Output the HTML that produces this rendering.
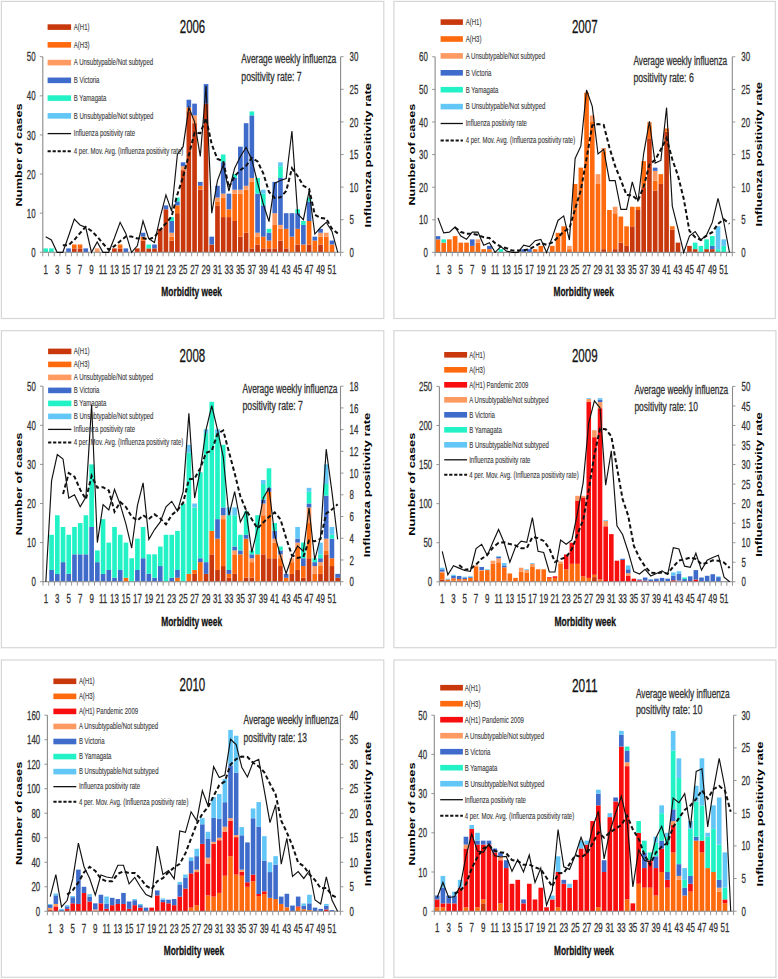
<!DOCTYPE html>
<html><head><meta charset="utf-8"><style>
html,body{margin:0;padding:0;background:#fff;}
svg{display:block;font-family:"Liberation Sans",sans-serif;}
</style></head><body>
<svg width="778" height="979" viewBox="0 0 778 979">
<rect width="778" height="979" fill="#fff"/>
<rect x="1.4" y="1.4" width="382.40000000000003" height="317.1" fill="#fff" stroke="#d6d6d6" stroke-width="1.2"/>
<rect x="43.34" y="248.39" width="4.64" height="3.91" fill="#22F2C6"/>
<rect x="49.07" y="248.39" width="4.64" height="3.91" fill="#22F2C6"/>
<rect x="66.25" y="248.39" width="4.64" height="3.91" fill="#3F6CCB"/>
<rect x="71.98" y="248.39" width="4.64" height="3.91" fill="#C8380C"/>
<rect x="71.98" y="244.48" width="4.64" height="3.91" fill="#FF6A0E"/>
<rect x="77.71" y="248.39" width="4.64" height="3.91" fill="#C8380C"/>
<rect x="77.71" y="244.48" width="4.64" height="3.91" fill="#FF6A0E"/>
<rect x="83.43" y="248.39" width="4.64" height="3.91" fill="#3F6CCB"/>
<rect x="94.89" y="248.39" width="4.64" height="3.91" fill="#FF9A62"/>
<rect x="112.07" y="248.39" width="4.64" height="3.91" fill="#C8380C"/>
<rect x="117.79" y="248.39" width="4.64" height="3.91" fill="#C8380C"/>
<rect x="117.79" y="244.48" width="4.64" height="3.91" fill="#FF6A0E"/>
<rect x="123.52" y="248.39" width="4.64" height="3.91" fill="#3F6CCB"/>
<rect x="134.97" y="248.39" width="4.64" height="3.91" fill="#C8380C"/>
<rect x="140.70" y="240.56" width="4.64" height="11.74" fill="#C8380C"/>
<rect x="140.70" y="236.65" width="4.64" height="3.91" fill="#FF6A0E"/>
<rect x="140.70" y="232.74" width="4.64" height="3.91" fill="#3F6CCB"/>
<rect x="146.43" y="248.39" width="4.64" height="3.91" fill="#C8380C"/>
<rect x="146.43" y="244.48" width="4.64" height="3.91" fill="#22F2C6"/>
<rect x="152.16" y="248.39" width="4.64" height="3.91" fill="#C8380C"/>
<rect x="152.16" y="244.48" width="4.64" height="3.91" fill="#3F6CCB"/>
<rect x="157.88" y="228.83" width="4.64" height="23.47" fill="#C8380C"/>
<rect x="163.61" y="209.27" width="4.64" height="43.03" fill="#C8380C"/>
<rect x="163.61" y="205.36" width="4.64" height="3.91" fill="#3F6CCB"/>
<rect x="169.34" y="240.56" width="4.64" height="11.74" fill="#C8380C"/>
<rect x="169.34" y="236.65" width="4.64" height="3.91" fill="#FF6A0E"/>
<rect x="169.34" y="232.74" width="4.64" height="3.91" fill="#FF9A62"/>
<rect x="169.34" y="221.00" width="4.64" height="11.74" fill="#3F6CCB"/>
<rect x="169.34" y="217.09" width="4.64" height="3.91" fill="#22F2C6"/>
<rect x="175.06" y="213.18" width="4.64" height="39.12" fill="#C8380C"/>
<rect x="175.06" y="205.36" width="4.64" height="7.82" fill="#FF6A0E"/>
<rect x="175.06" y="201.44" width="4.64" height="3.91" fill="#3F6CCB"/>
<rect x="175.06" y="197.53" width="4.64" height="3.91" fill="#22F2C6"/>
<rect x="180.79" y="170.15" width="4.64" height="82.15" fill="#C8380C"/>
<rect x="180.79" y="166.24" width="4.64" height="3.91" fill="#FF9A62"/>
<rect x="180.79" y="162.32" width="4.64" height="3.91" fill="#3F6CCB"/>
<rect x="186.52" y="111.47" width="4.64" height="140.83" fill="#C8380C"/>
<rect x="186.52" y="107.56" width="4.64" height="3.91" fill="#FF6A0E"/>
<rect x="186.52" y="99.73" width="4.64" height="7.82" fill="#3F6CCB"/>
<rect x="192.24" y="123.20" width="4.64" height="129.10" fill="#C8380C"/>
<rect x="192.24" y="115.38" width="4.64" height="7.82" fill="#FF9A62"/>
<rect x="192.24" y="103.64" width="4.64" height="11.74" fill="#3F6CCB"/>
<rect x="197.97" y="189.71" width="4.64" height="62.59" fill="#C8380C"/>
<rect x="197.97" y="185.80" width="4.64" height="3.91" fill="#FF6A0E"/>
<rect x="197.97" y="181.88" width="4.64" height="3.91" fill="#3F6CCB"/>
<rect x="203.70" y="103.64" width="4.64" height="148.66" fill="#C8380C"/>
<rect x="203.70" y="84.08" width="4.64" height="19.56" fill="#3F6CCB"/>
<rect x="209.42" y="244.48" width="4.64" height="7.82" fill="#C8380C"/>
<rect x="209.42" y="236.65" width="4.64" height="7.82" fill="#3F6CCB"/>
<rect x="215.15" y="205.36" width="4.64" height="46.94" fill="#C8380C"/>
<rect x="215.15" y="201.44" width="4.64" height="3.91" fill="#FF6A0E"/>
<rect x="215.15" y="197.53" width="4.64" height="3.91" fill="#FF9A62"/>
<rect x="215.15" y="185.80" width="4.64" height="11.74" fill="#3F6CCB"/>
<rect x="220.88" y="217.09" width="4.64" height="35.21" fill="#C8380C"/>
<rect x="220.88" y="197.53" width="4.64" height="19.56" fill="#FF6A0E"/>
<rect x="220.88" y="193.62" width="4.64" height="3.91" fill="#FF9A62"/>
<rect x="220.88" y="162.32" width="4.64" height="31.30" fill="#3F6CCB"/>
<rect x="220.88" y="154.50" width="4.64" height="7.82" fill="#22F2C6"/>
<rect x="226.61" y="217.09" width="4.64" height="35.21" fill="#C8380C"/>
<rect x="226.61" y="209.27" width="4.64" height="7.82" fill="#FF6A0E"/>
<rect x="226.61" y="193.62" width="4.64" height="15.65" fill="#3F6CCB"/>
<rect x="232.33" y="221.00" width="4.64" height="31.30" fill="#C8380C"/>
<rect x="232.33" y="193.62" width="4.64" height="27.38" fill="#FF6A0E"/>
<rect x="232.33" y="189.71" width="4.64" height="3.91" fill="#FF9A62"/>
<rect x="232.33" y="177.97" width="4.64" height="11.74" fill="#3F6CCB"/>
<rect x="232.33" y="174.06" width="4.64" height="3.91" fill="#22F2C6"/>
<rect x="238.06" y="236.65" width="4.64" height="15.65" fill="#C8380C"/>
<rect x="238.06" y="193.62" width="4.64" height="43.03" fill="#FF6A0E"/>
<rect x="238.06" y="189.71" width="4.64" height="3.91" fill="#FF9A62"/>
<rect x="238.06" y="146.68" width="4.64" height="43.03" fill="#3F6CCB"/>
<rect x="243.79" y="232.74" width="4.64" height="19.56" fill="#C8380C"/>
<rect x="243.79" y="189.71" width="4.64" height="43.03" fill="#FF6A0E"/>
<rect x="243.79" y="185.80" width="4.64" height="3.91" fill="#FF9A62"/>
<rect x="243.79" y="123.20" width="4.64" height="62.59" fill="#3F6CCB"/>
<rect x="249.51" y="248.39" width="4.64" height="3.91" fill="#C8380C"/>
<rect x="249.51" y="181.88" width="4.64" height="66.50" fill="#FF6A0E"/>
<rect x="249.51" y="177.97" width="4.64" height="3.91" fill="#FF9A62"/>
<rect x="249.51" y="115.38" width="4.64" height="62.59" fill="#3F6CCB"/>
<rect x="249.51" y="111.47" width="4.64" height="3.91" fill="#22F2C6"/>
<rect x="255.24" y="244.48" width="4.64" height="7.82" fill="#C8380C"/>
<rect x="255.24" y="236.65" width="4.64" height="7.82" fill="#FF6A0E"/>
<rect x="255.24" y="232.74" width="4.64" height="3.91" fill="#FF9A62"/>
<rect x="255.24" y="193.62" width="4.64" height="39.12" fill="#3F6CCB"/>
<rect x="255.24" y="177.97" width="4.64" height="15.65" fill="#22F2C6"/>
<rect x="260.97" y="248.39" width="4.64" height="3.91" fill="#C8380C"/>
<rect x="260.97" y="236.65" width="4.64" height="11.74" fill="#FF6A0E"/>
<rect x="260.97" y="205.36" width="4.64" height="31.30" fill="#3F6CCB"/>
<rect x="260.97" y="193.62" width="4.64" height="11.74" fill="#22F2C6"/>
<rect x="260.97" y="189.71" width="4.64" height="3.91" fill="#62C6F6"/>
<rect x="266.69" y="248.39" width="4.64" height="3.91" fill="#C8380C"/>
<rect x="266.69" y="240.56" width="4.64" height="7.82" fill="#FF6A0E"/>
<rect x="266.69" y="232.74" width="4.64" height="7.82" fill="#3F6CCB"/>
<rect x="266.69" y="228.83" width="4.64" height="3.91" fill="#22F2C6"/>
<rect x="272.42" y="248.39" width="4.64" height="3.91" fill="#C8380C"/>
<rect x="272.42" y="224.92" width="4.64" height="23.47" fill="#FF6A0E"/>
<rect x="272.42" y="213.18" width="4.64" height="11.74" fill="#FF9A62"/>
<rect x="272.42" y="181.88" width="4.64" height="31.30" fill="#3F6CCB"/>
<rect x="278.15" y="240.56" width="4.64" height="11.74" fill="#C8380C"/>
<rect x="278.15" y="228.83" width="4.64" height="11.74" fill="#FF6A0E"/>
<rect x="278.15" y="224.92" width="4.64" height="3.91" fill="#FF9A62"/>
<rect x="278.15" y="177.97" width="4.64" height="46.94" fill="#3F6CCB"/>
<rect x="278.15" y="166.24" width="4.64" height="11.74" fill="#22F2C6"/>
<rect x="278.15" y="162.32" width="4.64" height="3.91" fill="#62C6F6"/>
<rect x="283.87" y="248.39" width="4.64" height="3.91" fill="#C8380C"/>
<rect x="283.87" y="228.83" width="4.64" height="19.56" fill="#FF6A0E"/>
<rect x="283.87" y="213.18" width="4.64" height="15.65" fill="#3F6CCB"/>
<rect x="289.60" y="236.65" width="4.64" height="15.65" fill="#FF6A0E"/>
<rect x="289.60" y="213.18" width="4.64" height="23.47" fill="#3F6CCB"/>
<rect x="295.33" y="244.48" width="4.64" height="7.82" fill="#C8380C"/>
<rect x="295.33" y="228.83" width="4.64" height="15.65" fill="#FF6A0E"/>
<rect x="295.33" y="213.18" width="4.64" height="15.65" fill="#3F6CCB"/>
<rect x="295.33" y="209.27" width="4.64" height="3.91" fill="#22F2C6"/>
<rect x="301.06" y="244.48" width="4.64" height="7.82" fill="#FF6A0E"/>
<rect x="301.06" y="224.92" width="4.64" height="19.56" fill="#3F6CCB"/>
<rect x="301.06" y="221.00" width="4.64" height="3.91" fill="#22F2C6"/>
<rect x="306.78" y="244.48" width="4.64" height="7.82" fill="#C8380C"/>
<rect x="306.78" y="221.00" width="4.64" height="23.47" fill="#FF6A0E"/>
<rect x="306.78" y="201.44" width="4.64" height="19.56" fill="#3F6CCB"/>
<rect x="306.78" y="197.53" width="4.64" height="3.91" fill="#22F2C6"/>
<rect x="312.51" y="240.56" width="4.64" height="11.74" fill="#FF6A0E"/>
<rect x="312.51" y="236.65" width="4.64" height="3.91" fill="#3F6CCB"/>
<rect x="318.24" y="244.48" width="4.64" height="7.82" fill="#C8380C"/>
<rect x="318.24" y="236.65" width="4.64" height="7.82" fill="#FF6A0E"/>
<rect x="318.24" y="232.74" width="4.64" height="3.91" fill="#FF9A62"/>
<rect x="318.24" y="228.83" width="4.64" height="3.91" fill="#3F6CCB"/>
<rect x="323.96" y="236.65" width="4.64" height="15.65" fill="#FF6A0E"/>
<rect x="323.96" y="232.74" width="4.64" height="3.91" fill="#FF9A62"/>
<rect x="329.69" y="244.48" width="4.64" height="7.82" fill="#FF6A0E"/>
<rect x="329.69" y="240.56" width="4.64" height="3.91" fill="#3F6CCB"/>
<path d="M42.80,56.70V252.30M340.60,56.70V252.30M42.80,252.30H340.60" stroke="#8a8a8a" stroke-width="1.1" fill="none"/>
<path d="M39.80,252.30H42.80M39.80,213.18H42.80M39.80,174.06H42.80M39.80,134.94H42.80M39.80,95.82H42.80M39.80,56.70H42.80M340.60,252.30H343.60M340.60,219.70H343.60M340.60,187.10H343.60M340.60,154.50H343.60M340.60,121.90H343.60M340.60,89.30H343.60M340.60,56.70H343.60M42.80,252.30V256.30M48.53,252.30V256.30M54.25,252.30V256.30M59.98,252.30V256.30M65.71,252.30V256.30M71.43,252.30V256.30M77.16,252.30V256.30M82.89,252.30V256.30M88.62,252.30V256.30M94.34,252.30V256.30M100.07,252.30V256.30M105.80,252.30V256.30M111.52,252.30V256.30M117.25,252.30V256.30M122.98,252.30V256.30M128.70,252.30V256.30M134.43,252.30V256.30M140.16,252.30V256.30M145.88,252.30V256.30M151.61,252.30V256.30M157.34,252.30V256.30M163.07,252.30V256.30M168.79,252.30V256.30M174.52,252.30V256.30M180.25,252.30V256.30M185.97,252.30V256.30M191.70,252.30V256.30M197.43,252.30V256.30M203.15,252.30V256.30M208.88,252.30V256.30M214.61,252.30V256.30M220.33,252.30V256.30M226.06,252.30V256.30M231.79,252.30V256.30M237.52,252.30V256.30M243.24,252.30V256.30M248.97,252.30V256.30M254.70,252.30V256.30M260.42,252.30V256.30M266.15,252.30V256.30M271.88,252.30V256.30M277.60,252.30V256.30M283.33,252.30V256.30M289.06,252.30V256.30M294.78,252.30V256.30M300.51,252.30V256.30M306.24,252.30V256.30M311.97,252.30V256.30M317.69,252.30V256.30M323.42,252.30V256.30M329.15,252.30V256.30M334.87,252.30V256.30M340.60,252.30V256.30" stroke="#8a8a8a" stroke-width="0.9" fill="none"/>
<text x="31.20" y="256.92" font-size="13.2" fill="#333" stroke="#333" stroke-width="0.3" textLength="4.40" lengthAdjust="spacingAndGlyphs">0</text>
<text x="26.79" y="217.80" font-size="13.2" fill="#333" stroke="#333" stroke-width="0.3" textLength="8.81" lengthAdjust="spacingAndGlyphs">10</text>
<text x="26.79" y="178.68" font-size="13.2" fill="#333" stroke="#333" stroke-width="0.3" textLength="8.81" lengthAdjust="spacingAndGlyphs">20</text>
<text x="26.79" y="139.56" font-size="13.2" fill="#333" stroke="#333" stroke-width="0.3" textLength="8.81" lengthAdjust="spacingAndGlyphs">30</text>
<text x="26.79" y="100.44" font-size="13.2" fill="#333" stroke="#333" stroke-width="0.3" textLength="8.81" lengthAdjust="spacingAndGlyphs">40</text>
<text x="26.79" y="61.32" font-size="13.2" fill="#333" stroke="#333" stroke-width="0.3" textLength="8.81" lengthAdjust="spacingAndGlyphs">50</text>
<text x="349.60" y="256.92" font-size="13.2" fill="#333" stroke="#333" stroke-width="0.3" textLength="4.40" lengthAdjust="spacingAndGlyphs">0</text>
<text x="349.60" y="224.32" font-size="13.2" fill="#333" stroke="#333" stroke-width="0.3" textLength="4.40" lengthAdjust="spacingAndGlyphs">5</text>
<text x="349.60" y="191.72" font-size="13.2" fill="#333" stroke="#333" stroke-width="0.3" textLength="8.81" lengthAdjust="spacingAndGlyphs">10</text>
<text x="349.60" y="159.12" font-size="13.2" fill="#333" stroke="#333" stroke-width="0.3" textLength="8.81" lengthAdjust="spacingAndGlyphs">15</text>
<text x="349.60" y="126.52" font-size="13.2" fill="#333" stroke="#333" stroke-width="0.3" textLength="8.81" lengthAdjust="spacingAndGlyphs">20</text>
<text x="349.60" y="93.92" font-size="13.2" fill="#333" stroke="#333" stroke-width="0.3" textLength="8.81" lengthAdjust="spacingAndGlyphs">25</text>
<text x="349.60" y="61.32" font-size="13.2" fill="#333" stroke="#333" stroke-width="0.3" textLength="8.81" lengthAdjust="spacingAndGlyphs">30</text>
<text x="43.46" y="274.00" font-size="12.6" fill="#333" stroke="#333" stroke-width="0.3" textLength="4.41" lengthAdjust="spacingAndGlyphs">1</text>
<text x="54.91" y="274.00" font-size="12.6" fill="#333" stroke="#333" stroke-width="0.3" textLength="4.41" lengthAdjust="spacingAndGlyphs">3</text>
<text x="66.36" y="274.00" font-size="12.6" fill="#333" stroke="#333" stroke-width="0.3" textLength="4.41" lengthAdjust="spacingAndGlyphs">5</text>
<text x="77.82" y="274.00" font-size="12.6" fill="#333" stroke="#333" stroke-width="0.3" textLength="4.41" lengthAdjust="spacingAndGlyphs">7</text>
<text x="89.27" y="274.00" font-size="12.6" fill="#333" stroke="#333" stroke-width="0.3" textLength="4.41" lengthAdjust="spacingAndGlyphs">9</text>
<text x="98.81" y="274.00" font-size="12.6" fill="#333" stroke="#333" stroke-width="0.3" textLength="8.24" lengthAdjust="spacingAndGlyphs">11</text>
<text x="109.97" y="274.00" font-size="12.6" fill="#333" stroke="#333" stroke-width="0.3" textLength="8.83" lengthAdjust="spacingAndGlyphs">13</text>
<text x="121.43" y="274.00" font-size="12.6" fill="#333" stroke="#333" stroke-width="0.3" textLength="8.83" lengthAdjust="spacingAndGlyphs">15</text>
<text x="132.88" y="274.00" font-size="12.6" fill="#333" stroke="#333" stroke-width="0.3" textLength="8.83" lengthAdjust="spacingAndGlyphs">17</text>
<text x="144.33" y="274.00" font-size="12.6" fill="#333" stroke="#333" stroke-width="0.3" textLength="8.83" lengthAdjust="spacingAndGlyphs">19</text>
<text x="155.79" y="274.00" font-size="12.6" fill="#333" stroke="#333" stroke-width="0.3" textLength="8.83" lengthAdjust="spacingAndGlyphs">21</text>
<text x="167.24" y="274.00" font-size="12.6" fill="#333" stroke="#333" stroke-width="0.3" textLength="8.83" lengthAdjust="spacingAndGlyphs">23</text>
<text x="178.70" y="274.00" font-size="12.6" fill="#333" stroke="#333" stroke-width="0.3" textLength="8.83" lengthAdjust="spacingAndGlyphs">25</text>
<text x="190.15" y="274.00" font-size="12.6" fill="#333" stroke="#333" stroke-width="0.3" textLength="8.83" lengthAdjust="spacingAndGlyphs">27</text>
<text x="201.60" y="274.00" font-size="12.6" fill="#333" stroke="#333" stroke-width="0.3" textLength="8.83" lengthAdjust="spacingAndGlyphs">29</text>
<text x="213.06" y="274.00" font-size="12.6" fill="#333" stroke="#333" stroke-width="0.3" textLength="8.83" lengthAdjust="spacingAndGlyphs">31</text>
<text x="224.51" y="274.00" font-size="12.6" fill="#333" stroke="#333" stroke-width="0.3" textLength="8.83" lengthAdjust="spacingAndGlyphs">33</text>
<text x="235.96" y="274.00" font-size="12.6" fill="#333" stroke="#333" stroke-width="0.3" textLength="8.83" lengthAdjust="spacingAndGlyphs">35</text>
<text x="247.42" y="274.00" font-size="12.6" fill="#333" stroke="#333" stroke-width="0.3" textLength="8.83" lengthAdjust="spacingAndGlyphs">37</text>
<text x="258.87" y="274.00" font-size="12.6" fill="#333" stroke="#333" stroke-width="0.3" textLength="8.83" lengthAdjust="spacingAndGlyphs">39</text>
<text x="270.33" y="274.00" font-size="12.6" fill="#333" stroke="#333" stroke-width="0.3" textLength="8.83" lengthAdjust="spacingAndGlyphs">41</text>
<text x="281.78" y="274.00" font-size="12.6" fill="#333" stroke="#333" stroke-width="0.3" textLength="8.83" lengthAdjust="spacingAndGlyphs">43</text>
<text x="293.23" y="274.00" font-size="12.6" fill="#333" stroke="#333" stroke-width="0.3" textLength="8.83" lengthAdjust="spacingAndGlyphs">45</text>
<text x="304.69" y="274.00" font-size="12.6" fill="#333" stroke="#333" stroke-width="0.3" textLength="8.83" lengthAdjust="spacingAndGlyphs">47</text>
<text x="316.14" y="274.00" font-size="12.6" fill="#333" stroke="#333" stroke-width="0.3" textLength="8.83" lengthAdjust="spacingAndGlyphs">49</text>
<text x="327.60" y="274.00" font-size="12.6" fill="#333" stroke="#333" stroke-width="0.3" textLength="8.83" lengthAdjust="spacingAndGlyphs">51</text>
<polyline points="45.66,236.65 51.39,239.91 57.12,252.30 62.84,252.30 68.57,236.00 74.30,219.05 80.03,224.92 85.75,227.52 91.48,252.30 97.21,241.87 102.93,252.30 108.66,252.30 114.39,237.96 120.11,222.31 125.84,233.39 131.57,252.30 137.29,245.78 143.02,221.00 148.75,238.61 154.47,242.52 160.20,217.09 165.93,194.92 171.66,211.22 177.38,154.50 183.11,146.68 188.84,107.56 194.56,121.90 200.29,156.46 206.02,86.04 211.74,213.18 217.47,180.58 223.20,164.93 228.93,191.01 234.65,168.19 240.38,156.46 246.11,147.33 251.83,159.72 257.56,182.54 263.29,204.05 269.01,221.66 274.74,183.19 280.47,180.58 286.19,178.62 291.92,131.03 297.65,213.83 303.38,219.70 309.10,191.01 314.83,234.04 320.56,227.52 326.28,222.31 332.01,231.44 337.74,252.30" fill="none" stroke="#111" stroke-width="1.15" stroke-linejoin="miter"/>
<polyline points="62.84,245.29 68.57,245.13 74.30,239.91 80.03,233.07 85.75,226.87 91.48,230.95 97.21,236.65 102.93,243.50 108.66,249.69 114.39,246.11 120.11,241.22 125.84,236.49 131.57,236.49 137.29,238.45 143.02,238.12 148.75,239.42 154.47,236.98 160.20,229.81 165.93,223.29 171.66,216.44 177.38,194.44 183.11,176.83 188.84,154.99 194.56,132.66 200.29,133.15 206.02,117.99 211.74,144.39 217.47,159.06 223.20,161.18 228.93,187.43 234.65,176.18 240.38,170.15 246.11,165.75 251.83,157.92 257.56,161.51 263.29,173.41 269.01,191.99 274.74,197.86 280.47,197.37 286.19,191.01 291.92,168.36 297.65,176.02 303.38,185.80 309.10,188.89 314.83,214.65 320.56,218.07 326.28,218.72 332.01,228.83 337.74,233.39" fill="none" stroke="#111" stroke-width="2" stroke-dasharray="4.2,2.6"/>
<rect x="47.60" y="24.30" width="23.50" height="5.60" fill="#C8380C"/>
<text x="73.80" y="29.90" font-size="8.6" fill="#3a3a3a" stroke="#3a3a3a" stroke-width="0.12" textLength="15.72" lengthAdjust="spacingAndGlyphs">A(H1)</text>
<rect x="47.60" y="42.05" width="23.50" height="5.60" fill="#FF6A0E"/>
<text x="73.80" y="47.65" font-size="8.6" fill="#3a3a3a" stroke="#3a3a3a" stroke-width="0.12" textLength="15.72" lengthAdjust="spacingAndGlyphs">A(H3)</text>
<rect x="47.60" y="59.80" width="23.50" height="5.60" fill="#FF9A62"/>
<text x="73.80" y="65.40" font-size="8.6" fill="#3a3a3a" stroke="#3a3a3a" stroke-width="0.12" textLength="79.31" lengthAdjust="spacingAndGlyphs">A Unsubtypable/Not subtyped</text>
<rect x="47.60" y="77.55" width="23.50" height="5.60" fill="#3F6CCB"/>
<text x="73.80" y="83.15" font-size="8.6" fill="#3a3a3a" stroke="#3a3a3a" stroke-width="0.12" textLength="25.65" lengthAdjust="spacingAndGlyphs">B Victoria</text>
<rect x="47.60" y="95.30" width="23.50" height="5.60" fill="#22F2C6"/>
<text x="73.80" y="100.90" font-size="8.6" fill="#3a3a3a" stroke="#3a3a3a" stroke-width="0.12" textLength="32.57" lengthAdjust="spacingAndGlyphs">B Yamagata</text>
<rect x="47.60" y="113.05" width="23.50" height="5.60" fill="#62C6F6"/>
<text x="73.80" y="118.65" font-size="8.6" fill="#3a3a3a" stroke="#3a3a3a" stroke-width="0.12" textLength="79.64" lengthAdjust="spacingAndGlyphs">B Unsubtypable/Not subtyped</text>
<path d="M47.60,133.60H71.10" stroke="#111" stroke-width="1.3"/>
<text x="73.80" y="136.40" font-size="8.6" fill="#3a3a3a" stroke="#3a3a3a" stroke-width="0.12" textLength="61.23" lengthAdjust="spacingAndGlyphs">Influenza positivity rate</text>
<path d="M47.60,151.35H71.10" stroke="#111" stroke-width="2" stroke-dasharray="3.2,1.8"/>
<text x="73.80" y="154.15" font-size="8.6" fill="#3a3a3a" stroke="#3a3a3a" stroke-width="0.12" textLength="109.52" lengthAdjust="spacingAndGlyphs">4 per. Mov. Avg. (Influenza positivity rate)</text>
<text x="179.80" y="33.00" font-size="18.5" fill="#111" stroke="#111" stroke-width="0.3" textLength="25.40" lengthAdjust="spacingAndGlyphs">2006</text>
<text x="241.30" y="62.70" font-size="12" fill="#333" stroke="#333" stroke-width="0.3" textLength="95.00" lengthAdjust="spacingAndGlyphs">Average weekly influenza</text>
<text x="241.30" y="80.70" font-size="12" fill="#333" stroke="#333" stroke-width="0.3" textLength="60.40" lengthAdjust="spacingAndGlyphs">positivity rate: 7</text>
<g transform="translate(22.20,154.90) rotate(-90) scale(1,0.74)"><text x="-51.50" y="0" font-size="12.8" font-weight="bold" fill="#000" textLength="103.00" lengthAdjust="spacingAndGlyphs">Number of cases</text></g>
<g transform="translate(370.80,155.20) rotate(-90) scale(1,0.74)"><text x="-72.25" y="0" font-size="12.8" font-weight="bold" fill="#000" textLength="144.50" lengthAdjust="spacingAndGlyphs">Influenza positivity rate</text></g>
<text x="161.30" y="295.90" font-size="12.2" font-weight="bold" fill="#111" stroke="#111" stroke-width="0.3" textLength="60.70" lengthAdjust="spacingAndGlyphs">Morbidity week</text>
<rect x="393.9" y="1.4" width="381.4" height="317.1" fill="#fff" stroke="#d6d6d6" stroke-width="1.2"/>
<rect x="435.64" y="239.36" width="4.63" height="13.04" fill="#FF6A0E"/>
<rect x="435.64" y="236.10" width="4.63" height="3.26" fill="#3F6CCB"/>
<rect x="441.36" y="242.62" width="4.63" height="9.78" fill="#FF6A0E"/>
<rect x="441.36" y="239.36" width="4.63" height="3.26" fill="#22F2C6"/>
<rect x="447.07" y="239.36" width="4.63" height="13.04" fill="#FF6A0E"/>
<rect x="452.79" y="236.10" width="4.63" height="16.30" fill="#FF6A0E"/>
<rect x="458.50" y="242.62" width="4.63" height="9.78" fill="#FF6A0E"/>
<rect x="464.22" y="242.62" width="4.63" height="9.78" fill="#FF6A0E"/>
<rect x="469.94" y="245.88" width="4.63" height="6.52" fill="#FF6A0E"/>
<rect x="469.94" y="239.36" width="4.63" height="6.52" fill="#3F6CCB"/>
<rect x="475.65" y="242.62" width="4.63" height="9.78" fill="#FF6A0E"/>
<rect x="475.65" y="239.36" width="4.63" height="3.26" fill="#FF9A62"/>
<rect x="481.37" y="249.14" width="4.63" height="3.26" fill="#FF6A0E"/>
<rect x="487.08" y="249.14" width="4.63" height="3.26" fill="#FF6A0E"/>
<rect x="487.08" y="245.88" width="4.63" height="3.26" fill="#3F6CCB"/>
<rect x="498.51" y="249.14" width="4.63" height="3.26" fill="#22F2C6"/>
<rect x="521.37" y="249.14" width="4.63" height="3.26" fill="#3F6CCB"/>
<rect x="527.09" y="249.14" width="4.63" height="3.26" fill="#3F6CCB"/>
<rect x="532.80" y="249.14" width="4.63" height="3.26" fill="#FF6A0E"/>
<rect x="538.52" y="245.88" width="4.63" height="6.52" fill="#FF6A0E"/>
<rect x="549.95" y="245.88" width="4.63" height="6.52" fill="#FF6A0E"/>
<rect x="555.67" y="232.84" width="4.63" height="19.56" fill="#FF6A0E"/>
<rect x="561.38" y="226.32" width="4.63" height="26.08" fill="#FF6A0E"/>
<rect x="567.10" y="249.14" width="4.63" height="3.26" fill="#FF6A0E"/>
<rect x="567.10" y="245.88" width="4.63" height="3.26" fill="#FF9A62"/>
<rect x="572.81" y="183.94" width="4.63" height="68.46" fill="#FF6A0E"/>
<rect x="578.53" y="167.64" width="4.63" height="84.76" fill="#FF6A0E"/>
<rect x="584.24" y="92.66" width="4.63" height="159.74" fill="#FF6A0E"/>
<rect x="589.96" y="122.00" width="4.63" height="130.40" fill="#FF6A0E"/>
<rect x="589.96" y="115.48" width="4.63" height="6.52" fill="#FF9A62"/>
<rect x="595.67" y="183.94" width="4.63" height="68.46" fill="#FF6A0E"/>
<rect x="595.67" y="174.16" width="4.63" height="9.78" fill="#FF9A62"/>
<rect x="601.39" y="249.14" width="4.63" height="3.26" fill="#C8380C"/>
<rect x="601.39" y="151.34" width="4.63" height="97.80" fill="#FF6A0E"/>
<rect x="601.39" y="148.08" width="4.63" height="3.26" fill="#FF9A62"/>
<rect x="607.10" y="210.02" width="4.63" height="42.38" fill="#FF6A0E"/>
<rect x="612.82" y="249.14" width="4.63" height="3.26" fill="#C8380C"/>
<rect x="612.82" y="213.28" width="4.63" height="35.86" fill="#FF6A0E"/>
<rect x="612.82" y="206.76" width="4.63" height="6.52" fill="#FF9A62"/>
<rect x="618.54" y="242.62" width="4.63" height="9.78" fill="#C8380C"/>
<rect x="618.54" y="216.54" width="4.63" height="26.08" fill="#FF6A0E"/>
<rect x="624.25" y="245.88" width="4.63" height="6.52" fill="#C8380C"/>
<rect x="624.25" y="226.32" width="4.63" height="19.56" fill="#FF6A0E"/>
<rect x="629.97" y="226.32" width="4.63" height="26.08" fill="#C8380C"/>
<rect x="629.97" y="206.76" width="4.63" height="19.56" fill="#FF6A0E"/>
<rect x="635.68" y="210.02" width="4.63" height="42.38" fill="#C8380C"/>
<rect x="635.68" y="206.76" width="4.63" height="3.26" fill="#FF6A0E"/>
<rect x="641.40" y="187.20" width="4.63" height="65.20" fill="#C8380C"/>
<rect x="641.40" y="161.12" width="4.63" height="26.08" fill="#FF6A0E"/>
<rect x="647.11" y="138.30" width="4.63" height="114.10" fill="#C8380C"/>
<rect x="647.11" y="125.26" width="4.63" height="13.04" fill="#FF6A0E"/>
<rect x="647.11" y="122.00" width="4.63" height="3.26" fill="#FF9A62"/>
<rect x="652.83" y="190.46" width="4.63" height="61.94" fill="#C8380C"/>
<rect x="652.83" y="180.68" width="4.63" height="9.78" fill="#FF6A0E"/>
<rect x="652.83" y="170.90" width="4.63" height="9.78" fill="#FF9A62"/>
<rect x="652.83" y="167.64" width="4.63" height="3.26" fill="#3F6CCB"/>
<rect x="658.54" y="183.94" width="4.63" height="68.46" fill="#C8380C"/>
<rect x="658.54" y="174.16" width="4.63" height="9.78" fill="#FF6A0E"/>
<rect x="664.26" y="131.78" width="4.63" height="120.62" fill="#C8380C"/>
<rect x="664.26" y="128.52" width="4.63" height="3.26" fill="#FF6A0E"/>
<rect x="669.97" y="229.58" width="4.63" height="22.82" fill="#C8380C"/>
<rect x="669.97" y="226.32" width="4.63" height="3.26" fill="#FF6A0E"/>
<rect x="675.69" y="242.62" width="4.63" height="9.78" fill="#C8380C"/>
<rect x="687.12" y="245.88" width="4.63" height="6.52" fill="#C8380C"/>
<rect x="692.84" y="249.14" width="4.63" height="3.26" fill="#C8380C"/>
<rect x="692.84" y="242.62" width="4.63" height="6.52" fill="#22F2C6"/>
<rect x="698.55" y="245.88" width="4.63" height="6.52" fill="#22F2C6"/>
<rect x="704.27" y="249.14" width="4.63" height="3.26" fill="#C8380C"/>
<rect x="704.27" y="239.36" width="4.63" height="9.78" fill="#22F2C6"/>
<rect x="709.98" y="249.14" width="4.63" height="3.26" fill="#C8380C"/>
<rect x="709.98" y="245.88" width="4.63" height="3.26" fill="#3F6CCB"/>
<rect x="709.98" y="236.10" width="4.63" height="9.78" fill="#22F2C6"/>
<rect x="715.70" y="249.14" width="4.63" height="3.26" fill="#22F2C6"/>
<rect x="715.70" y="226.32" width="4.63" height="22.82" fill="#62C6F6"/>
<rect x="721.41" y="245.88" width="4.63" height="6.52" fill="#22F2C6"/>
<rect x="721.41" y="239.36" width="4.63" height="6.52" fill="#62C6F6"/>
<path d="M435.10,56.80V252.40M732.30,56.80V252.40M435.10,252.40H732.30" stroke="#8a8a8a" stroke-width="1.1" fill="none"/>
<path d="M432.10,252.40H435.10M432.10,219.80H435.10M432.10,187.20H435.10M432.10,154.60H435.10M432.10,122.00H435.10M432.10,89.40H435.10M432.10,56.80H435.10M732.30,252.40H735.30M732.30,219.80H735.30M732.30,187.20H735.30M732.30,154.60H735.30M732.30,122.00H735.30M732.30,89.40H735.30M732.30,56.80H735.30M435.10,252.40V256.40M440.82,252.40V256.40M446.53,252.40V256.40M452.25,252.40V256.40M457.96,252.40V256.40M463.68,252.40V256.40M469.39,252.40V256.40M475.11,252.40V256.40M480.82,252.40V256.40M486.54,252.40V256.40M492.25,252.40V256.40M497.97,252.40V256.40M503.68,252.40V256.40M509.40,252.40V256.40M515.12,252.40V256.40M520.83,252.40V256.40M526.55,252.40V256.40M532.26,252.40V256.40M537.98,252.40V256.40M543.69,252.40V256.40M549.41,252.40V256.40M555.12,252.40V256.40M560.84,252.40V256.40M566.55,252.40V256.40M572.27,252.40V256.40M577.98,252.40V256.40M583.70,252.40V256.40M589.42,252.40V256.40M595.13,252.40V256.40M600.85,252.40V256.40M606.56,252.40V256.40M612.28,252.40V256.40M617.99,252.40V256.40M623.71,252.40V256.40M629.42,252.40V256.40M635.14,252.40V256.40M640.85,252.40V256.40M646.57,252.40V256.40M652.28,252.40V256.40M658.00,252.40V256.40M663.72,252.40V256.40M669.43,252.40V256.40M675.15,252.40V256.40M680.86,252.40V256.40M686.58,252.40V256.40M692.29,252.40V256.40M698.01,252.40V256.40M703.72,252.40V256.40M709.44,252.40V256.40M715.15,252.40V256.40M720.87,252.40V256.40M726.58,252.40V256.40M732.30,252.40V256.40" stroke="#8a8a8a" stroke-width="0.9" fill="none"/>
<text x="423.50" y="257.02" font-size="13.2" fill="#333" stroke="#333" stroke-width="0.3" textLength="4.40" lengthAdjust="spacingAndGlyphs">0</text>
<text x="419.09" y="224.42" font-size="13.2" fill="#333" stroke="#333" stroke-width="0.3" textLength="8.81" lengthAdjust="spacingAndGlyphs">10</text>
<text x="419.09" y="191.82" font-size="13.2" fill="#333" stroke="#333" stroke-width="0.3" textLength="8.81" lengthAdjust="spacingAndGlyphs">20</text>
<text x="419.09" y="159.22" font-size="13.2" fill="#333" stroke="#333" stroke-width="0.3" textLength="8.81" lengthAdjust="spacingAndGlyphs">30</text>
<text x="419.09" y="126.62" font-size="13.2" fill="#333" stroke="#333" stroke-width="0.3" textLength="8.81" lengthAdjust="spacingAndGlyphs">40</text>
<text x="419.09" y="94.02" font-size="13.2" fill="#333" stroke="#333" stroke-width="0.3" textLength="8.81" lengthAdjust="spacingAndGlyphs">50</text>
<text x="419.09" y="61.42" font-size="13.2" fill="#333" stroke="#333" stroke-width="0.3" textLength="8.81" lengthAdjust="spacingAndGlyphs">60</text>
<text x="741.30" y="257.02" font-size="13.2" fill="#333" stroke="#333" stroke-width="0.3" textLength="4.40" lengthAdjust="spacingAndGlyphs">0</text>
<text x="741.30" y="224.42" font-size="13.2" fill="#333" stroke="#333" stroke-width="0.3" textLength="4.40" lengthAdjust="spacingAndGlyphs">5</text>
<text x="741.30" y="191.82" font-size="13.2" fill="#333" stroke="#333" stroke-width="0.3" textLength="8.81" lengthAdjust="spacingAndGlyphs">10</text>
<text x="741.30" y="159.22" font-size="13.2" fill="#333" stroke="#333" stroke-width="0.3" textLength="8.81" lengthAdjust="spacingAndGlyphs">15</text>
<text x="741.30" y="126.62" font-size="13.2" fill="#333" stroke="#333" stroke-width="0.3" textLength="8.81" lengthAdjust="spacingAndGlyphs">20</text>
<text x="741.30" y="94.02" font-size="13.2" fill="#333" stroke="#333" stroke-width="0.3" textLength="8.81" lengthAdjust="spacingAndGlyphs">25</text>
<text x="741.30" y="61.42" font-size="13.2" fill="#333" stroke="#333" stroke-width="0.3" textLength="8.81" lengthAdjust="spacingAndGlyphs">30</text>
<text x="435.75" y="273.60" font-size="12.6" fill="#333" stroke="#333" stroke-width="0.3" textLength="4.41" lengthAdjust="spacingAndGlyphs">1</text>
<text x="447.18" y="273.60" font-size="12.6" fill="#333" stroke="#333" stroke-width="0.3" textLength="4.41" lengthAdjust="spacingAndGlyphs">3</text>
<text x="458.61" y="273.60" font-size="12.6" fill="#333" stroke="#333" stroke-width="0.3" textLength="4.41" lengthAdjust="spacingAndGlyphs">5</text>
<text x="470.04" y="273.60" font-size="12.6" fill="#333" stroke="#333" stroke-width="0.3" textLength="4.41" lengthAdjust="spacingAndGlyphs">7</text>
<text x="481.47" y="273.60" font-size="12.6" fill="#333" stroke="#333" stroke-width="0.3" textLength="4.41" lengthAdjust="spacingAndGlyphs">9</text>
<text x="490.99" y="273.60" font-size="12.6" fill="#333" stroke="#333" stroke-width="0.3" textLength="8.24" lengthAdjust="spacingAndGlyphs">11</text>
<text x="502.13" y="273.60" font-size="12.6" fill="#333" stroke="#333" stroke-width="0.3" textLength="8.83" lengthAdjust="spacingAndGlyphs">13</text>
<text x="513.56" y="273.60" font-size="12.6" fill="#333" stroke="#333" stroke-width="0.3" textLength="8.83" lengthAdjust="spacingAndGlyphs">15</text>
<text x="524.99" y="273.60" font-size="12.6" fill="#333" stroke="#333" stroke-width="0.3" textLength="8.83" lengthAdjust="spacingAndGlyphs">17</text>
<text x="536.42" y="273.60" font-size="12.6" fill="#333" stroke="#333" stroke-width="0.3" textLength="8.83" lengthAdjust="spacingAndGlyphs">19</text>
<text x="547.85" y="273.60" font-size="12.6" fill="#333" stroke="#333" stroke-width="0.3" textLength="8.83" lengthAdjust="spacingAndGlyphs">21</text>
<text x="559.28" y="273.60" font-size="12.6" fill="#333" stroke="#333" stroke-width="0.3" textLength="8.83" lengthAdjust="spacingAndGlyphs">23</text>
<text x="570.71" y="273.60" font-size="12.6" fill="#333" stroke="#333" stroke-width="0.3" textLength="8.83" lengthAdjust="spacingAndGlyphs">25</text>
<text x="582.14" y="273.60" font-size="12.6" fill="#333" stroke="#333" stroke-width="0.3" textLength="8.83" lengthAdjust="spacingAndGlyphs">27</text>
<text x="593.57" y="273.60" font-size="12.6" fill="#333" stroke="#333" stroke-width="0.3" textLength="8.83" lengthAdjust="spacingAndGlyphs">29</text>
<text x="605.00" y="273.60" font-size="12.6" fill="#333" stroke="#333" stroke-width="0.3" textLength="8.83" lengthAdjust="spacingAndGlyphs">31</text>
<text x="616.44" y="273.60" font-size="12.6" fill="#333" stroke="#333" stroke-width="0.3" textLength="8.83" lengthAdjust="spacingAndGlyphs">33</text>
<text x="627.87" y="273.60" font-size="12.6" fill="#333" stroke="#333" stroke-width="0.3" textLength="8.83" lengthAdjust="spacingAndGlyphs">35</text>
<text x="639.30" y="273.60" font-size="12.6" fill="#333" stroke="#333" stroke-width="0.3" textLength="8.83" lengthAdjust="spacingAndGlyphs">37</text>
<text x="650.73" y="273.60" font-size="12.6" fill="#333" stroke="#333" stroke-width="0.3" textLength="8.83" lengthAdjust="spacingAndGlyphs">39</text>
<text x="662.16" y="273.60" font-size="12.6" fill="#333" stroke="#333" stroke-width="0.3" textLength="8.83" lengthAdjust="spacingAndGlyphs">41</text>
<text x="673.59" y="273.60" font-size="12.6" fill="#333" stroke="#333" stroke-width="0.3" textLength="8.83" lengthAdjust="spacingAndGlyphs">43</text>
<text x="685.02" y="273.60" font-size="12.6" fill="#333" stroke="#333" stroke-width="0.3" textLength="8.83" lengthAdjust="spacingAndGlyphs">45</text>
<text x="696.45" y="273.60" font-size="12.6" fill="#333" stroke="#333" stroke-width="0.3" textLength="8.83" lengthAdjust="spacingAndGlyphs">47</text>
<text x="707.88" y="273.60" font-size="12.6" fill="#333" stroke="#333" stroke-width="0.3" textLength="8.83" lengthAdjust="spacingAndGlyphs">49</text>
<text x="719.31" y="273.60" font-size="12.6" fill="#333" stroke="#333" stroke-width="0.3" textLength="8.83" lengthAdjust="spacingAndGlyphs">51</text>
<polyline points="437.96,217.84 443.67,232.84 449.39,232.19 455.10,226.97 460.82,236.10 466.53,239.36 472.25,232.19 477.97,232.19 483.68,245.23 489.40,242.62 495.11,252.40 500.83,246.53 506.54,251.10 512.26,252.40 517.97,252.40 523.69,245.23 529.40,246.53 535.12,240.66 540.83,239.36 546.55,252.40 552.27,237.40 557.98,220.45 563.70,215.89 569.41,240.01 575.13,158.51 580.84,146.12 586.56,90.05 592.27,106.35 597.99,153.95 603.70,149.38 609.42,180.68 615.13,180.68 620.85,209.37 626.57,209.37 632.28,181.98 638.00,201.54 643.71,153.30 649.43,121.35 655.14,163.08 660.86,160.47 666.57,107.66 672.29,206.11 678.00,228.93 683.72,252.40 689.43,236.10 695.15,231.54 700.87,240.01 706.58,234.80 712.30,222.41 718.01,198.28 723.73,221.76 729.44,252.40" fill="none" stroke="#111" stroke-width="1.15" stroke-linejoin="miter"/>
<polyline points="455.10,227.46 460.82,232.03 466.53,233.66 472.25,233.66 477.97,234.96 483.68,237.24 489.40,238.06 495.11,243.11 500.83,246.69 506.54,248.16 512.26,250.61 517.97,250.61 523.69,250.28 529.40,249.14 535.12,246.21 540.83,242.95 546.55,244.74 552.27,242.46 557.98,237.40 563.70,231.54 569.41,228.44 575.13,208.72 580.84,190.13 586.56,158.68 592.27,125.26 597.99,124.12 603.70,124.93 609.42,147.59 615.13,166.17 620.85,180.03 626.57,195.02 632.28,195.35 638.00,200.57 643.71,186.55 649.43,164.54 655.14,159.82 660.86,149.55 666.57,138.14 672.29,159.33 678.00,175.79 683.72,198.77 689.43,230.88 695.15,237.24 700.87,240.01 706.58,235.61 712.30,232.19 718.01,223.88 723.73,219.31 729.44,223.71" fill="none" stroke="#111" stroke-width="2" stroke-dasharray="4.2,2.6"/>
<rect x="440.60" y="19.30" width="22.30" height="5.60" fill="#C8380C"/>
<text x="465.70" y="24.90" font-size="8.6" fill="#3a3a3a" stroke="#3a3a3a" stroke-width="0.12" textLength="15.72" lengthAdjust="spacingAndGlyphs">A(H1)</text>
<rect x="440.60" y="36.20" width="22.30" height="5.60" fill="#FF6A0E"/>
<text x="465.70" y="41.80" font-size="8.6" fill="#3a3a3a" stroke="#3a3a3a" stroke-width="0.12" textLength="15.72" lengthAdjust="spacingAndGlyphs">A(H3)</text>
<rect x="440.60" y="53.10" width="22.30" height="5.60" fill="#FF9A62"/>
<text x="465.70" y="58.70" font-size="8.6" fill="#3a3a3a" stroke="#3a3a3a" stroke-width="0.12" textLength="79.31" lengthAdjust="spacingAndGlyphs">A Unsubtypable/Not subtyped</text>
<rect x="440.60" y="70.00" width="22.30" height="5.60" fill="#3F6CCB"/>
<text x="465.70" y="75.60" font-size="8.6" fill="#3a3a3a" stroke="#3a3a3a" stroke-width="0.12" textLength="25.65" lengthAdjust="spacingAndGlyphs">B Victoria</text>
<rect x="440.60" y="86.90" width="22.30" height="5.60" fill="#22F2C6"/>
<text x="465.70" y="92.50" font-size="8.6" fill="#3a3a3a" stroke="#3a3a3a" stroke-width="0.12" textLength="32.57" lengthAdjust="spacingAndGlyphs">B Yamagata</text>
<rect x="440.60" y="103.80" width="22.30" height="5.60" fill="#62C6F6"/>
<text x="465.70" y="109.40" font-size="8.6" fill="#3a3a3a" stroke="#3a3a3a" stroke-width="0.12" textLength="79.64" lengthAdjust="spacingAndGlyphs">B Unsubtypable/Not subtyped</text>
<path d="M440.60,123.50H462.90" stroke="#111" stroke-width="1.3"/>
<text x="465.70" y="126.30" font-size="8.6" fill="#3a3a3a" stroke="#3a3a3a" stroke-width="0.12" textLength="61.23" lengthAdjust="spacingAndGlyphs">Influenza positivity rate</text>
<path d="M440.60,140.40H462.90" stroke="#111" stroke-width="2" stroke-dasharray="3.2,1.8"/>
<text x="465.70" y="143.20" font-size="8.6" fill="#3a3a3a" stroke="#3a3a3a" stroke-width="0.12" textLength="109.52" lengthAdjust="spacingAndGlyphs">4 per. Mov. Avg. (Influenza positivity rate)</text>
<text x="571.90" y="33.10" font-size="18.5" fill="#111" stroke="#111" stroke-width="0.3" textLength="25.70" lengthAdjust="spacingAndGlyphs">2007</text>
<text x="633.40" y="64.50" font-size="12" fill="#333" stroke="#333" stroke-width="0.3" textLength="93.80" lengthAdjust="spacingAndGlyphs">Average weekly influenza</text>
<text x="633.40" y="81.80" font-size="12" fill="#333" stroke="#333" stroke-width="0.3" textLength="60.40" lengthAdjust="spacingAndGlyphs">positivity rate: 6</text>
<g transform="translate(414.90,154.60) rotate(-90) scale(1,0.74)"><text x="-51.00" y="0" font-size="12.8" font-weight="bold" fill="#000" textLength="102.00" lengthAdjust="spacingAndGlyphs">Number of cases</text></g>
<g transform="translate(761.50,154.20) rotate(-90) scale(1,0.74)"><text x="-72.25" y="0" font-size="12.8" font-weight="bold" fill="#000" textLength="144.50" lengthAdjust="spacingAndGlyphs">Influenza positivity rate</text></g>
<text x="553.50" y="296.00" font-size="12.2" font-weight="bold" fill="#111" stroke="#111" stroke-width="0.3" textLength="60.40" lengthAdjust="spacingAndGlyphs">Morbidity week</text>
<rect x="1.4" y="330.7" width="382.40000000000003" height="317.00000000000006" fill="#fff" stroke="#d6d6d6" stroke-width="1.2"/>
<rect x="49.26" y="569.97" width="4.63" height="11.73" fill="#3F6CCB"/>
<rect x="49.26" y="534.78" width="4.63" height="35.19" fill="#22F2C6"/>
<rect x="54.99" y="573.88" width="4.63" height="7.82" fill="#3F6CCB"/>
<rect x="54.99" y="515.23" width="4.63" height="58.65" fill="#22F2C6"/>
<rect x="60.71" y="562.15" width="4.63" height="19.55" fill="#3F6CCB"/>
<rect x="60.71" y="526.96" width="4.63" height="35.19" fill="#22F2C6"/>
<rect x="66.43" y="573.88" width="4.63" height="7.82" fill="#3F6CCB"/>
<rect x="66.43" y="534.78" width="4.63" height="39.10" fill="#22F2C6"/>
<rect x="72.15" y="554.33" width="4.63" height="27.37" fill="#3F6CCB"/>
<rect x="72.15" y="526.96" width="4.63" height="27.37" fill="#22F2C6"/>
<rect x="77.87" y="554.33" width="4.63" height="27.37" fill="#3F6CCB"/>
<rect x="77.87" y="523.05" width="4.63" height="31.28" fill="#22F2C6"/>
<rect x="83.59" y="554.33" width="4.63" height="27.37" fill="#3F6CCB"/>
<rect x="83.59" y="515.23" width="4.63" height="39.10" fill="#22F2C6"/>
<rect x="89.31" y="526.96" width="4.63" height="54.74" fill="#3F6CCB"/>
<rect x="89.31" y="464.40" width="4.63" height="62.56" fill="#22F2C6"/>
<rect x="95.03" y="562.15" width="4.63" height="19.55" fill="#3F6CCB"/>
<rect x="95.03" y="550.42" width="4.63" height="11.73" fill="#22F2C6"/>
<rect x="100.76" y="573.88" width="4.63" height="7.82" fill="#3F6CCB"/>
<rect x="100.76" y="519.14" width="4.63" height="54.74" fill="#22F2C6"/>
<rect x="106.48" y="569.97" width="4.63" height="11.73" fill="#3F6CCB"/>
<rect x="106.48" y="542.60" width="4.63" height="27.37" fill="#22F2C6"/>
<rect x="112.20" y="577.79" width="4.63" height="3.91" fill="#3F6CCB"/>
<rect x="112.20" y="526.96" width="4.63" height="50.83" fill="#22F2C6"/>
<rect x="117.92" y="569.97" width="4.63" height="11.73" fill="#3F6CCB"/>
<rect x="117.92" y="534.78" width="4.63" height="35.19" fill="#22F2C6"/>
<rect x="123.64" y="577.79" width="4.63" height="3.91" fill="#FF6A0E"/>
<rect x="123.64" y="542.60" width="4.63" height="35.19" fill="#22F2C6"/>
<rect x="129.36" y="558.24" width="4.63" height="23.46" fill="#22F2C6"/>
<rect x="135.08" y="569.97" width="4.63" height="11.73" fill="#3F6CCB"/>
<rect x="135.08" y="538.69" width="4.63" height="31.28" fill="#22F2C6"/>
<rect x="140.80" y="558.24" width="4.63" height="23.46" fill="#3F6CCB"/>
<rect x="140.80" y="526.96" width="4.63" height="31.28" fill="#22F2C6"/>
<rect x="146.52" y="573.88" width="4.63" height="7.82" fill="#3F6CCB"/>
<rect x="146.52" y="554.33" width="4.63" height="19.55" fill="#22F2C6"/>
<rect x="152.25" y="577.79" width="4.63" height="3.91" fill="#3F6CCB"/>
<rect x="152.25" y="554.33" width="4.63" height="23.46" fill="#22F2C6"/>
<rect x="157.97" y="566.06" width="4.63" height="15.64" fill="#3F6CCB"/>
<rect x="157.97" y="546.51" width="4.63" height="19.55" fill="#22F2C6"/>
<rect x="163.69" y="534.78" width="4.63" height="46.92" fill="#22F2C6"/>
<rect x="169.41" y="577.79" width="4.63" height="3.91" fill="#3F6CCB"/>
<rect x="169.41" y="534.78" width="4.63" height="43.01" fill="#22F2C6"/>
<rect x="175.13" y="577.79" width="4.63" height="3.91" fill="#FF6A0E"/>
<rect x="175.13" y="569.97" width="4.63" height="7.82" fill="#3F6CCB"/>
<rect x="175.13" y="530.87" width="4.63" height="39.10" fill="#22F2C6"/>
<rect x="180.85" y="503.50" width="4.63" height="78.20" fill="#22F2C6"/>
<rect x="186.57" y="573.88" width="4.63" height="7.82" fill="#FF6A0E"/>
<rect x="186.57" y="452.67" width="4.63" height="121.21" fill="#22F2C6"/>
<rect x="186.57" y="444.85" width="4.63" height="7.82" fill="#62C6F6"/>
<rect x="192.29" y="573.88" width="4.63" height="7.82" fill="#C8380C"/>
<rect x="192.29" y="569.97" width="4.63" height="3.91" fill="#FF6A0E"/>
<rect x="192.29" y="507.41" width="4.63" height="62.56" fill="#22F2C6"/>
<rect x="192.29" y="503.50" width="4.63" height="3.91" fill="#62C6F6"/>
<rect x="198.01" y="562.15" width="4.63" height="19.55" fill="#FF6A0E"/>
<rect x="198.01" y="558.24" width="4.63" height="3.91" fill="#3F6CCB"/>
<rect x="198.01" y="472.22" width="4.63" height="86.02" fill="#22F2C6"/>
<rect x="203.74" y="573.88" width="4.63" height="7.82" fill="#C8380C"/>
<rect x="203.74" y="562.15" width="4.63" height="11.73" fill="#3F6CCB"/>
<rect x="203.74" y="433.12" width="4.63" height="129.03" fill="#22F2C6"/>
<rect x="203.74" y="429.21" width="4.63" height="3.91" fill="#62C6F6"/>
<rect x="209.46" y="554.33" width="4.63" height="27.37" fill="#C8380C"/>
<rect x="209.46" y="530.87" width="4.63" height="23.46" fill="#FF6A0E"/>
<rect x="209.46" y="401.84" width="4.63" height="129.03" fill="#22F2C6"/>
<rect x="215.18" y="569.97" width="4.63" height="11.73" fill="#C8380C"/>
<rect x="215.18" y="538.69" width="4.63" height="31.28" fill="#FF6A0E"/>
<rect x="215.18" y="519.14" width="4.63" height="19.55" fill="#3F6CCB"/>
<rect x="215.18" y="433.12" width="4.63" height="86.02" fill="#22F2C6"/>
<rect x="215.18" y="429.21" width="4.63" height="3.91" fill="#62C6F6"/>
<rect x="220.90" y="566.06" width="4.63" height="15.64" fill="#C8380C"/>
<rect x="220.90" y="519.14" width="4.63" height="46.92" fill="#FF6A0E"/>
<rect x="220.90" y="515.23" width="4.63" height="3.91" fill="#FF9A62"/>
<rect x="220.90" y="507.41" width="4.63" height="7.82" fill="#3F6CCB"/>
<rect x="220.90" y="444.85" width="4.63" height="62.56" fill="#22F2C6"/>
<rect x="226.62" y="577.79" width="4.63" height="3.91" fill="#C8380C"/>
<rect x="226.62" y="573.88" width="4.63" height="3.91" fill="#FF6A0E"/>
<rect x="226.62" y="569.97" width="4.63" height="3.91" fill="#3F6CCB"/>
<rect x="226.62" y="515.23" width="4.63" height="54.74" fill="#22F2C6"/>
<rect x="226.62" y="507.41" width="4.63" height="7.82" fill="#62C6F6"/>
<rect x="232.34" y="573.88" width="4.63" height="7.82" fill="#C8380C"/>
<rect x="232.34" y="554.33" width="4.63" height="19.55" fill="#FF6A0E"/>
<rect x="232.34" y="550.42" width="4.63" height="3.91" fill="#FF9A62"/>
<rect x="232.34" y="546.51" width="4.63" height="3.91" fill="#3F6CCB"/>
<rect x="232.34" y="515.23" width="4.63" height="31.28" fill="#22F2C6"/>
<rect x="232.34" y="507.41" width="4.63" height="7.82" fill="#62C6F6"/>
<rect x="238.06" y="554.33" width="4.63" height="27.37" fill="#FF6A0E"/>
<rect x="238.06" y="550.42" width="4.63" height="3.91" fill="#3F6CCB"/>
<rect x="238.06" y="534.78" width="4.63" height="15.64" fill="#22F2C6"/>
<rect x="243.78" y="577.79" width="4.63" height="3.91" fill="#C8380C"/>
<rect x="243.78" y="538.69" width="4.63" height="39.10" fill="#FF6A0E"/>
<rect x="243.78" y="534.78" width="4.63" height="3.91" fill="#3F6CCB"/>
<rect x="243.78" y="511.32" width="4.63" height="23.46" fill="#22F2C6"/>
<rect x="249.51" y="577.79" width="4.63" height="3.91" fill="#C8380C"/>
<rect x="249.51" y="562.15" width="4.63" height="15.64" fill="#FF6A0E"/>
<rect x="249.51" y="558.24" width="4.63" height="3.91" fill="#FF9A62"/>
<rect x="249.51" y="554.33" width="4.63" height="3.91" fill="#3F6CCB"/>
<rect x="249.51" y="550.42" width="4.63" height="3.91" fill="#22F2C6"/>
<rect x="255.23" y="554.33" width="4.63" height="27.37" fill="#FF6A0E"/>
<rect x="255.23" y="515.23" width="4.63" height="39.10" fill="#22F2C6"/>
<rect x="260.95" y="554.33" width="4.63" height="27.37" fill="#C8380C"/>
<rect x="260.95" y="515.23" width="4.63" height="39.10" fill="#FF6A0E"/>
<rect x="260.95" y="503.50" width="4.63" height="11.73" fill="#FF9A62"/>
<rect x="260.95" y="499.59" width="4.63" height="3.91" fill="#3F6CCB"/>
<rect x="260.95" y="483.95" width="4.63" height="15.64" fill="#22F2C6"/>
<rect x="260.95" y="480.04" width="4.63" height="3.91" fill="#62C6F6"/>
<rect x="266.67" y="558.24" width="4.63" height="23.46" fill="#C8380C"/>
<rect x="266.67" y="491.77" width="4.63" height="66.47" fill="#FF6A0E"/>
<rect x="266.67" y="487.86" width="4.63" height="3.91" fill="#3F6CCB"/>
<rect x="266.67" y="468.31" width="4.63" height="19.55" fill="#22F2C6"/>
<rect x="272.39" y="558.24" width="4.63" height="23.46" fill="#C8380C"/>
<rect x="272.39" y="542.60" width="4.63" height="15.64" fill="#FF6A0E"/>
<rect x="272.39" y="538.69" width="4.63" height="3.91" fill="#FF9A62"/>
<rect x="272.39" y="530.87" width="4.63" height="7.82" fill="#3F6CCB"/>
<rect x="272.39" y="523.05" width="4.63" height="7.82" fill="#22F2C6"/>
<rect x="278.11" y="566.06" width="4.63" height="15.64" fill="#C8380C"/>
<rect x="278.11" y="558.24" width="4.63" height="7.82" fill="#FF6A0E"/>
<rect x="278.11" y="554.33" width="4.63" height="3.91" fill="#FF9A62"/>
<rect x="278.11" y="550.42" width="4.63" height="3.91" fill="#3F6CCB"/>
<rect x="278.11" y="546.51" width="4.63" height="3.91" fill="#22F2C6"/>
<rect x="283.83" y="577.79" width="4.63" height="3.91" fill="#FF6A0E"/>
<rect x="283.83" y="573.88" width="4.63" height="3.91" fill="#3F6CCB"/>
<rect x="289.55" y="573.88" width="4.63" height="7.82" fill="#C8380C"/>
<rect x="289.55" y="562.15" width="4.63" height="11.73" fill="#FF6A0E"/>
<rect x="289.55" y="558.24" width="4.63" height="3.91" fill="#FF9A62"/>
<rect x="295.27" y="569.97" width="4.63" height="11.73" fill="#C8380C"/>
<rect x="295.27" y="546.51" width="4.63" height="23.46" fill="#FF6A0E"/>
<rect x="295.27" y="542.60" width="4.63" height="3.91" fill="#FF9A62"/>
<rect x="295.27" y="538.69" width="4.63" height="3.91" fill="#3F6CCB"/>
<rect x="295.27" y="526.96" width="4.63" height="11.73" fill="#62C6F6"/>
<rect x="301.00" y="577.79" width="4.63" height="3.91" fill="#C8380C"/>
<rect x="301.00" y="566.06" width="4.63" height="11.73" fill="#FF6A0E"/>
<rect x="301.00" y="558.24" width="4.63" height="7.82" fill="#3F6CCB"/>
<rect x="301.00" y="542.60" width="4.63" height="15.64" fill="#22F2C6"/>
<rect x="306.72" y="558.24" width="4.63" height="23.46" fill="#C8380C"/>
<rect x="306.72" y="523.05" width="4.63" height="35.19" fill="#FF6A0E"/>
<rect x="306.72" y="507.41" width="4.63" height="15.64" fill="#FF9A62"/>
<rect x="306.72" y="503.50" width="4.63" height="3.91" fill="#3F6CCB"/>
<rect x="306.72" y="491.77" width="4.63" height="11.73" fill="#22F2C6"/>
<rect x="306.72" y="487.86" width="4.63" height="3.91" fill="#62C6F6"/>
<rect x="312.44" y="573.88" width="4.63" height="7.82" fill="#FF6A0E"/>
<rect x="312.44" y="566.06" width="4.63" height="7.82" fill="#FF9A62"/>
<rect x="312.44" y="562.15" width="4.63" height="3.91" fill="#3F6CCB"/>
<rect x="312.44" y="558.24" width="4.63" height="3.91" fill="#22F2C6"/>
<rect x="318.16" y="573.88" width="4.63" height="7.82" fill="#C8380C"/>
<rect x="318.16" y="566.06" width="4.63" height="7.82" fill="#FF6A0E"/>
<rect x="318.16" y="562.15" width="4.63" height="3.91" fill="#FF9A62"/>
<rect x="318.16" y="558.24" width="4.63" height="3.91" fill="#3F6CCB"/>
<rect x="318.16" y="554.33" width="4.63" height="3.91" fill="#22F2C6"/>
<rect x="318.16" y="542.60" width="4.63" height="11.73" fill="#62C6F6"/>
<rect x="323.88" y="554.33" width="4.63" height="27.37" fill="#C8380C"/>
<rect x="323.88" y="550.42" width="4.63" height="3.91" fill="#FF6A0E"/>
<rect x="323.88" y="538.69" width="4.63" height="11.73" fill="#FF9A62"/>
<rect x="323.88" y="495.68" width="4.63" height="43.01" fill="#3F6CCB"/>
<rect x="323.88" y="483.95" width="4.63" height="11.73" fill="#22F2C6"/>
<rect x="323.88" y="464.40" width="4.63" height="19.55" fill="#62C6F6"/>
<rect x="329.60" y="566.06" width="4.63" height="15.64" fill="#C8380C"/>
<rect x="329.60" y="558.24" width="4.63" height="7.82" fill="#FF6A0E"/>
<rect x="329.60" y="538.69" width="4.63" height="19.55" fill="#3F6CCB"/>
<rect x="329.60" y="534.78" width="4.63" height="3.91" fill="#22F2C6"/>
<rect x="329.60" y="526.96" width="4.63" height="7.82" fill="#62C6F6"/>
<rect x="335.32" y="577.79" width="4.63" height="3.91" fill="#C8380C"/>
<rect x="335.32" y="573.88" width="4.63" height="3.91" fill="#3F6CCB"/>
<path d="M43.00,386.20V581.70M340.50,386.20V581.70M43.00,581.70H340.50" stroke="#8a8a8a" stroke-width="1.1" fill="none"/>
<path d="M40.00,581.70H43.00M40.00,542.60H43.00M40.00,503.50H43.00M40.00,464.40H43.00M40.00,425.30H43.00M40.00,386.20H43.00M340.50,581.70H343.50M340.50,559.98H343.50M340.50,538.26H343.50M340.50,516.53H343.50M340.50,494.81H343.50M340.50,473.09H343.50M340.50,451.37H343.50M340.50,429.64H343.50M340.50,407.92H343.50M340.50,386.20H343.50M43.00,581.70V585.70M48.72,581.70V585.70M54.44,581.70V585.70M60.16,581.70V585.70M65.88,581.70V585.70M71.61,581.70V585.70M77.33,581.70V585.70M83.05,581.70V585.70M88.77,581.70V585.70M94.49,581.70V585.70M100.21,581.70V585.70M105.93,581.70V585.70M111.65,581.70V585.70M117.38,581.70V585.70M123.10,581.70V585.70M128.82,581.70V585.70M134.54,581.70V585.70M140.26,581.70V585.70M145.98,581.70V585.70M151.70,581.70V585.70M157.42,581.70V585.70M163.14,581.70V585.70M168.87,581.70V585.70M174.59,581.70V585.70M180.31,581.70V585.70M186.03,581.70V585.70M191.75,581.70V585.70M197.47,581.70V585.70M203.19,581.70V585.70M208.91,581.70V585.70M214.63,581.70V585.70M220.36,581.70V585.70M226.08,581.70V585.70M231.80,581.70V585.70M237.52,581.70V585.70M243.24,581.70V585.70M248.96,581.70V585.70M254.68,581.70V585.70M260.40,581.70V585.70M266.12,581.70V585.70M271.85,581.70V585.70M277.57,581.70V585.70M283.29,581.70V585.70M289.01,581.70V585.70M294.73,581.70V585.70M300.45,581.70V585.70M306.17,581.70V585.70M311.89,581.70V585.70M317.62,581.70V585.70M323.34,581.70V585.70M329.06,581.70V585.70M334.78,581.70V585.70M340.50,581.70V585.70" stroke="#8a8a8a" stroke-width="0.9" fill="none"/>
<text x="31.40" y="586.32" font-size="13.2" fill="#333" stroke="#333" stroke-width="0.3" textLength="4.40" lengthAdjust="spacingAndGlyphs">0</text>
<text x="26.99" y="547.22" font-size="13.2" fill="#333" stroke="#333" stroke-width="0.3" textLength="8.81" lengthAdjust="spacingAndGlyphs">10</text>
<text x="26.99" y="508.12" font-size="13.2" fill="#333" stroke="#333" stroke-width="0.3" textLength="8.81" lengthAdjust="spacingAndGlyphs">20</text>
<text x="26.99" y="469.02" font-size="13.2" fill="#333" stroke="#333" stroke-width="0.3" textLength="8.81" lengthAdjust="spacingAndGlyphs">30</text>
<text x="26.99" y="429.92" font-size="13.2" fill="#333" stroke="#333" stroke-width="0.3" textLength="8.81" lengthAdjust="spacingAndGlyphs">40</text>
<text x="26.99" y="390.82" font-size="13.2" fill="#333" stroke="#333" stroke-width="0.3" textLength="8.81" lengthAdjust="spacingAndGlyphs">50</text>
<text x="349.50" y="586.32" font-size="13.2" fill="#333" stroke="#333" stroke-width="0.3" textLength="4.40" lengthAdjust="spacingAndGlyphs">0</text>
<text x="349.50" y="564.60" font-size="13.2" fill="#333" stroke="#333" stroke-width="0.3" textLength="4.40" lengthAdjust="spacingAndGlyphs">2</text>
<text x="349.50" y="542.88" font-size="13.2" fill="#333" stroke="#333" stroke-width="0.3" textLength="4.40" lengthAdjust="spacingAndGlyphs">4</text>
<text x="349.50" y="521.15" font-size="13.2" fill="#333" stroke="#333" stroke-width="0.3" textLength="4.40" lengthAdjust="spacingAndGlyphs">6</text>
<text x="349.50" y="499.43" font-size="13.2" fill="#333" stroke="#333" stroke-width="0.3" textLength="4.40" lengthAdjust="spacingAndGlyphs">8</text>
<text x="349.50" y="477.71" font-size="13.2" fill="#333" stroke="#333" stroke-width="0.3" textLength="8.81" lengthAdjust="spacingAndGlyphs">10</text>
<text x="349.50" y="455.99" font-size="13.2" fill="#333" stroke="#333" stroke-width="0.3" textLength="8.81" lengthAdjust="spacingAndGlyphs">12</text>
<text x="349.50" y="434.26" font-size="13.2" fill="#333" stroke="#333" stroke-width="0.3" textLength="8.81" lengthAdjust="spacingAndGlyphs">14</text>
<text x="349.50" y="412.54" font-size="13.2" fill="#333" stroke="#333" stroke-width="0.3" textLength="8.81" lengthAdjust="spacingAndGlyphs">16</text>
<text x="349.50" y="390.82" font-size="13.2" fill="#333" stroke="#333" stroke-width="0.3" textLength="8.81" lengthAdjust="spacingAndGlyphs">18</text>
<text x="43.65" y="602.90" font-size="12.6" fill="#333" stroke="#333" stroke-width="0.3" textLength="4.41" lengthAdjust="spacingAndGlyphs">1</text>
<text x="55.10" y="602.90" font-size="12.6" fill="#333" stroke="#333" stroke-width="0.3" textLength="4.41" lengthAdjust="spacingAndGlyphs">3</text>
<text x="66.54" y="602.90" font-size="12.6" fill="#333" stroke="#333" stroke-width="0.3" textLength="4.41" lengthAdjust="spacingAndGlyphs">5</text>
<text x="77.98" y="602.90" font-size="12.6" fill="#333" stroke="#333" stroke-width="0.3" textLength="4.41" lengthAdjust="spacingAndGlyphs">7</text>
<text x="89.42" y="602.90" font-size="12.6" fill="#333" stroke="#333" stroke-width="0.3" textLength="4.41" lengthAdjust="spacingAndGlyphs">9</text>
<text x="98.95" y="602.90" font-size="12.6" fill="#333" stroke="#333" stroke-width="0.3" textLength="8.24" lengthAdjust="spacingAndGlyphs">11</text>
<text x="110.10" y="602.90" font-size="12.6" fill="#333" stroke="#333" stroke-width="0.3" textLength="8.83" lengthAdjust="spacingAndGlyphs">13</text>
<text x="121.54" y="602.90" font-size="12.6" fill="#333" stroke="#333" stroke-width="0.3" textLength="8.83" lengthAdjust="spacingAndGlyphs">15</text>
<text x="132.98" y="602.90" font-size="12.6" fill="#333" stroke="#333" stroke-width="0.3" textLength="8.83" lengthAdjust="spacingAndGlyphs">17</text>
<text x="144.43" y="602.90" font-size="12.6" fill="#333" stroke="#333" stroke-width="0.3" textLength="8.83" lengthAdjust="spacingAndGlyphs">19</text>
<text x="155.87" y="602.90" font-size="12.6" fill="#333" stroke="#333" stroke-width="0.3" textLength="8.83" lengthAdjust="spacingAndGlyphs">21</text>
<text x="167.31" y="602.90" font-size="12.6" fill="#333" stroke="#333" stroke-width="0.3" textLength="8.83" lengthAdjust="spacingAndGlyphs">23</text>
<text x="178.75" y="602.90" font-size="12.6" fill="#333" stroke="#333" stroke-width="0.3" textLength="8.83" lengthAdjust="spacingAndGlyphs">25</text>
<text x="190.20" y="602.90" font-size="12.6" fill="#333" stroke="#333" stroke-width="0.3" textLength="8.83" lengthAdjust="spacingAndGlyphs">27</text>
<text x="201.64" y="602.90" font-size="12.6" fill="#333" stroke="#333" stroke-width="0.3" textLength="8.83" lengthAdjust="spacingAndGlyphs">29</text>
<text x="213.08" y="602.90" font-size="12.6" fill="#333" stroke="#333" stroke-width="0.3" textLength="8.83" lengthAdjust="spacingAndGlyphs">31</text>
<text x="224.52" y="602.90" font-size="12.6" fill="#333" stroke="#333" stroke-width="0.3" textLength="8.83" lengthAdjust="spacingAndGlyphs">33</text>
<text x="235.97" y="602.90" font-size="12.6" fill="#333" stroke="#333" stroke-width="0.3" textLength="8.83" lengthAdjust="spacingAndGlyphs">35</text>
<text x="247.41" y="602.90" font-size="12.6" fill="#333" stroke="#333" stroke-width="0.3" textLength="8.83" lengthAdjust="spacingAndGlyphs">37</text>
<text x="258.85" y="602.90" font-size="12.6" fill="#333" stroke="#333" stroke-width="0.3" textLength="8.83" lengthAdjust="spacingAndGlyphs">39</text>
<text x="270.29" y="602.90" font-size="12.6" fill="#333" stroke="#333" stroke-width="0.3" textLength="8.83" lengthAdjust="spacingAndGlyphs">41</text>
<text x="281.73" y="602.90" font-size="12.6" fill="#333" stroke="#333" stroke-width="0.3" textLength="8.83" lengthAdjust="spacingAndGlyphs">43</text>
<text x="293.18" y="602.90" font-size="12.6" fill="#333" stroke="#333" stroke-width="0.3" textLength="8.83" lengthAdjust="spacingAndGlyphs">45</text>
<text x="304.62" y="602.90" font-size="12.6" fill="#333" stroke="#333" stroke-width="0.3" textLength="8.83" lengthAdjust="spacingAndGlyphs">47</text>
<text x="316.06" y="602.90" font-size="12.6" fill="#333" stroke="#333" stroke-width="0.3" textLength="8.83" lengthAdjust="spacingAndGlyphs">49</text>
<text x="327.50" y="602.90" font-size="12.6" fill="#333" stroke="#333" stroke-width="0.3" textLength="8.83" lengthAdjust="spacingAndGlyphs">51</text>
<polyline points="45.86,581.70 51.58,480.69 57.30,454.62 63.02,458.97 68.75,498.07 74.47,494.81 80.19,506.76 85.91,496.98 91.63,404.66 97.35,542.60 103.07,504.59 108.79,510.02 114.51,489.38 120.24,504.59 125.96,524.14 131.68,548.03 137.40,505.67 143.12,482.86 148.84,539.34 154.56,529.57 160.28,521.96 166.00,506.76 171.73,501.33 177.45,511.10 183.17,491.55 188.89,413.35 194.61,498.07 200.33,469.83 206.05,429.64 211.77,405.75 217.50,429.64 223.22,456.80 228.94,515.45 234.66,491.55 240.38,521.96 246.10,511.10 251.82,552.38 257.54,528.48 263.26,498.07 268.99,488.29 274.71,535.00 280.43,555.63 286.15,573.55 291.87,556.72 297.59,545.86 303.31,551.29 309.03,507.84 314.75,559.98 320.48,537.17 326.20,449.19 331.92,491.55 337.64,539.34" fill="none" stroke="#111" stroke-width="1.15" stroke-linejoin="miter"/>
<polyline points="63.02,494.00 68.75,473.09 74.47,476.62 80.19,489.65 85.91,499.16 91.63,475.80 97.35,487.75 103.07,487.21 108.79,490.47 114.51,511.65 120.24,502.14 125.96,507.03 131.68,516.53 137.40,520.61 143.12,515.18 148.84,518.98 154.56,514.36 160.28,518.43 166.00,524.41 171.73,514.90 177.45,510.29 183.17,502.69 188.89,479.33 194.61,478.52 200.33,468.20 206.05,452.72 211.77,450.82 217.50,433.72 223.22,430.46 228.94,451.91 234.66,473.36 240.38,496.44 246.10,510.02 251.82,519.25 257.54,528.48 263.26,522.51 268.99,516.80 274.71,512.46 280.43,519.25 286.15,538.12 291.87,555.23 297.59,557.94 303.31,556.86 309.03,540.43 314.75,541.24 320.48,539.07 326.20,513.55 331.92,509.47 337.64,504.31" fill="none" stroke="#111" stroke-width="2" stroke-dasharray="4.2,2.6"/>
<rect x="48.10" y="348.60" width="23.30" height="5.60" fill="#C8380C"/>
<text x="73.80" y="354.20" font-size="8.6" fill="#3a3a3a" stroke="#3a3a3a" stroke-width="0.12" textLength="15.72" lengthAdjust="spacingAndGlyphs">A(H1)</text>
<rect x="48.10" y="361.60" width="23.30" height="5.60" fill="#FF6A0E"/>
<text x="73.80" y="367.20" font-size="8.6" fill="#3a3a3a" stroke="#3a3a3a" stroke-width="0.12" textLength="15.72" lengthAdjust="spacingAndGlyphs">A(H3)</text>
<rect x="48.10" y="374.60" width="23.30" height="5.60" fill="#FF9A62"/>
<text x="73.80" y="380.20" font-size="8.6" fill="#3a3a3a" stroke="#3a3a3a" stroke-width="0.12" textLength="79.31" lengthAdjust="spacingAndGlyphs">A Unsubtypable/Not subtyped</text>
<rect x="48.10" y="387.60" width="23.30" height="5.60" fill="#3F6CCB"/>
<text x="73.80" y="393.20" font-size="8.6" fill="#3a3a3a" stroke="#3a3a3a" stroke-width="0.12" textLength="25.65" lengthAdjust="spacingAndGlyphs">B Victoria</text>
<rect x="48.10" y="400.60" width="23.30" height="5.60" fill="#22F2C6"/>
<text x="73.80" y="406.20" font-size="8.6" fill="#3a3a3a" stroke="#3a3a3a" stroke-width="0.12" textLength="32.57" lengthAdjust="spacingAndGlyphs">B Yamagata</text>
<rect x="48.10" y="413.60" width="23.30" height="5.60" fill="#62C6F6"/>
<text x="73.80" y="419.20" font-size="8.6" fill="#3a3a3a" stroke="#3a3a3a" stroke-width="0.12" textLength="79.64" lengthAdjust="spacingAndGlyphs">B Unsubtypable/Not subtyped</text>
<path d="M48.10,429.40H71.40" stroke="#111" stroke-width="1.3"/>
<text x="73.80" y="432.20" font-size="8.6" fill="#3a3a3a" stroke="#3a3a3a" stroke-width="0.12" textLength="61.23" lengthAdjust="spacingAndGlyphs">Influenza positivity rate</text>
<path d="M48.10,442.40H71.40" stroke="#111" stroke-width="2" stroke-dasharray="3.2,1.8"/>
<text x="73.80" y="445.20" font-size="8.6" fill="#3a3a3a" stroke="#3a3a3a" stroke-width="0.12" textLength="109.52" lengthAdjust="spacingAndGlyphs">4 per. Mov. Avg. (Influenza positivity rate)</text>
<text x="179.60" y="361.50" font-size="18.5" fill="#111" stroke="#111" stroke-width="0.3" textLength="25.60" lengthAdjust="spacingAndGlyphs">2008</text>
<text x="242.50" y="393.30" font-size="12" fill="#333" stroke="#333" stroke-width="0.3" textLength="95.00" lengthAdjust="spacingAndGlyphs">Average weekly influenza</text>
<text x="242.50" y="410.30" font-size="12" fill="#333" stroke="#333" stroke-width="0.3" textLength="60.40" lengthAdjust="spacingAndGlyphs">positivity rate: 7</text>
<g transform="translate(21.90,483.90) rotate(-90) scale(1,0.74)"><text x="-51.25" y="0" font-size="12.8" font-weight="bold" fill="#000" textLength="102.50" lengthAdjust="spacingAndGlyphs">Number of cases</text></g>
<g transform="translate(370.30,485.00) rotate(-90) scale(1,0.74)"><text x="-72.25" y="0" font-size="12.8" font-weight="bold" fill="#000" textLength="144.50" lengthAdjust="spacingAndGlyphs">Influenza positivity rate</text></g>
<text x="161.20" y="625.90" font-size="12.2" font-weight="bold" fill="#111" stroke="#111" stroke-width="0.3" textLength="60.90" lengthAdjust="spacingAndGlyphs">Morbidity week</text>
<rect x="393.9" y="330.7" width="382.0" height="317.00000000000006" fill="#fff" stroke="#d6d6d6" stroke-width="1.2"/>
<rect x="439.94" y="579.46" width="4.57" height="2.34" fill="#C8380C"/>
<rect x="439.94" y="572.42" width="4.57" height="7.03" fill="#FF6A0E"/>
<rect x="439.94" y="571.64" width="4.57" height="0.78" fill="#FF9A62"/>
<rect x="439.94" y="569.29" width="4.57" height="2.34" fill="#3F6CCB"/>
<rect x="439.94" y="567.73" width="4.57" height="1.56" fill="#62C6F6"/>
<rect x="445.57" y="581.02" width="4.57" height="0.78" fill="#C8380C"/>
<rect x="445.57" y="579.46" width="4.57" height="1.56" fill="#FF6A0E"/>
<rect x="445.57" y="578.67" width="4.57" height="0.78" fill="#62C6F6"/>
<rect x="451.21" y="580.63" width="4.57" height="1.17" fill="#C8380C"/>
<rect x="451.21" y="578.28" width="4.57" height="2.34" fill="#FF6A0E"/>
<rect x="451.21" y="575.94" width="4.57" height="2.34" fill="#3F6CCB"/>
<rect x="451.21" y="574.77" width="4.57" height="1.17" fill="#62C6F6"/>
<rect x="456.85" y="580.63" width="4.57" height="1.17" fill="#C8380C"/>
<rect x="456.85" y="579.06" width="4.57" height="1.56" fill="#FF6A0E"/>
<rect x="456.85" y="575.94" width="4.57" height="3.13" fill="#3F6CCB"/>
<rect x="462.48" y="580.63" width="4.57" height="1.17" fill="#C8380C"/>
<rect x="462.48" y="579.06" width="4.57" height="1.56" fill="#FF6A0E"/>
<rect x="462.48" y="577.50" width="4.57" height="1.56" fill="#3F6CCB"/>
<rect x="462.48" y="576.72" width="4.57" height="0.78" fill="#62C6F6"/>
<rect x="468.12" y="581.02" width="4.57" height="0.78" fill="#C8380C"/>
<rect x="468.12" y="577.89" width="4.57" height="3.13" fill="#FF6A0E"/>
<rect x="468.12" y="577.11" width="4.57" height="0.78" fill="#3F6CCB"/>
<rect x="468.12" y="576.33" width="4.57" height="0.78" fill="#62C6F6"/>
<rect x="473.75" y="580.24" width="4.57" height="1.56" fill="#C8380C"/>
<rect x="473.75" y="566.95" width="4.57" height="13.29" fill="#FF6A0E"/>
<rect x="473.75" y="565.39" width="4.57" height="1.56" fill="#FF9A62"/>
<rect x="479.39" y="570.86" width="4.57" height="10.94" fill="#FF6A0E"/>
<rect x="479.39" y="570.08" width="4.57" height="0.78" fill="#FF9A62"/>
<rect x="479.39" y="566.95" width="4.57" height="3.13" fill="#3F6CCB"/>
<rect x="485.03" y="570.08" width="4.57" height="11.72" fill="#FF6A0E"/>
<rect x="485.03" y="569.29" width="4.57" height="0.78" fill="#62C6F6"/>
<rect x="490.66" y="563.82" width="4.57" height="17.98" fill="#FF6A0E"/>
<rect x="490.66" y="560.70" width="4.57" height="3.13" fill="#FF9A62"/>
<rect x="496.30" y="562.26" width="4.57" height="19.54" fill="#FF6A0E"/>
<rect x="496.30" y="558.35" width="4.57" height="3.91" fill="#FF9A62"/>
<rect x="496.30" y="556.79" width="4.57" height="1.56" fill="#3F6CCB"/>
<rect x="496.30" y="556.01" width="4.57" height="0.78" fill="#62C6F6"/>
<rect x="501.94" y="580.63" width="4.57" height="1.17" fill="#C8380C"/>
<rect x="501.94" y="567.34" width="4.57" height="13.29" fill="#FF6A0E"/>
<rect x="501.94" y="565.39" width="4.57" height="1.95" fill="#3F6CCB"/>
<rect x="501.94" y="563.04" width="4.57" height="2.34" fill="#62C6F6"/>
<rect x="507.57" y="573.98" width="4.57" height="7.82" fill="#FF6A0E"/>
<rect x="507.57" y="573.20" width="4.57" height="0.78" fill="#FF9A62"/>
<rect x="513.21" y="577.89" width="4.57" height="3.91" fill="#FF6A0E"/>
<rect x="518.85" y="571.64" width="4.57" height="10.16" fill="#FF6A0E"/>
<rect x="518.85" y="567.73" width="4.57" height="3.91" fill="#FF9A62"/>
<rect x="524.48" y="572.42" width="4.57" height="9.38" fill="#FF6A0E"/>
<rect x="524.48" y="570.08" width="4.57" height="2.34" fill="#FF9A62"/>
<rect x="524.48" y="569.29" width="4.57" height="0.78" fill="#62C6F6"/>
<rect x="530.12" y="566.95" width="4.57" height="14.85" fill="#FF6A0E"/>
<rect x="530.12" y="563.82" width="4.57" height="3.13" fill="#FF9A62"/>
<rect x="530.12" y="563.04" width="4.57" height="0.78" fill="#62C6F6"/>
<rect x="535.76" y="569.29" width="4.57" height="12.51" fill="#FF6A0E"/>
<rect x="541.39" y="569.29" width="4.57" height="12.51" fill="#FF6A0E"/>
<rect x="547.03" y="577.89" width="4.57" height="3.91" fill="#FF6A0E"/>
<rect x="547.03" y="577.11" width="4.57" height="0.78" fill="#F80E0E"/>
<rect x="552.67" y="577.89" width="4.57" height="3.91" fill="#FF6A0E"/>
<rect x="552.67" y="576.33" width="4.57" height="1.56" fill="#F80E0E"/>
<rect x="558.30" y="563.82" width="4.57" height="17.98" fill="#FF6A0E"/>
<rect x="558.30" y="561.48" width="4.57" height="2.34" fill="#FF9A62"/>
<rect x="563.94" y="569.29" width="4.57" height="12.51" fill="#FF6A0E"/>
<rect x="563.94" y="554.44" width="4.57" height="14.85" fill="#F80E0E"/>
<rect x="569.58" y="563.82" width="4.57" height="17.98" fill="#FF6A0E"/>
<rect x="569.58" y="542.72" width="4.57" height="21.10" fill="#F80E0E"/>
<rect x="575.21" y="563.82" width="4.57" height="17.98" fill="#FF6A0E"/>
<rect x="575.21" y="500.51" width="4.57" height="63.31" fill="#F80E0E"/>
<rect x="575.21" y="495.82" width="4.57" height="4.69" fill="#FF9A62"/>
<rect x="580.85" y="576.33" width="4.57" height="5.47" fill="#FF6A0E"/>
<rect x="580.85" y="497.39" width="4.57" height="78.94" fill="#F80E0E"/>
<rect x="580.85" y="495.82" width="4.57" height="1.56" fill="#FF9A62"/>
<rect x="586.49" y="577.89" width="4.57" height="3.91" fill="#FF6A0E"/>
<rect x="586.49" y="402.03" width="4.57" height="175.86" fill="#F80E0E"/>
<rect x="586.49" y="398.91" width="4.57" height="3.13" fill="#FF9A62"/>
<rect x="586.49" y="398.12" width="4.57" height="0.78" fill="#62C6F6"/>
<rect x="592.12" y="577.11" width="4.57" height="4.69" fill="#C8380C"/>
<rect x="592.12" y="574.77" width="4.57" height="2.34" fill="#FF6A0E"/>
<rect x="592.12" y="437.20" width="4.57" height="137.56" fill="#F80E0E"/>
<rect x="592.12" y="430.17" width="4.57" height="7.03" fill="#FF9A62"/>
<rect x="597.76" y="579.46" width="4.57" height="2.34" fill="#FF6A0E"/>
<rect x="597.76" y="408.28" width="4.57" height="171.17" fill="#F80E0E"/>
<rect x="597.76" y="402.03" width="4.57" height="6.25" fill="#FF9A62"/>
<rect x="597.76" y="399.69" width="4.57" height="2.34" fill="#3F6CCB"/>
<rect x="597.76" y="398.12" width="4.57" height="1.56" fill="#62C6F6"/>
<rect x="603.40" y="526.31" width="4.57" height="55.49" fill="#F80E0E"/>
<rect x="603.40" y="520.84" width="4.57" height="5.47" fill="#FF9A62"/>
<rect x="603.40" y="520.05" width="4.57" height="0.78" fill="#62C6F6"/>
<rect x="609.03" y="534.12" width="4.57" height="47.68" fill="#F80E0E"/>
<rect x="614.67" y="560.70" width="4.57" height="21.10" fill="#F80E0E"/>
<rect x="620.30" y="559.92" width="4.57" height="21.88" fill="#F80E0E"/>
<rect x="620.30" y="558.74" width="4.57" height="1.17" fill="#3F6CCB"/>
<rect x="625.94" y="575.55" width="4.57" height="6.25" fill="#F80E0E"/>
<rect x="625.94" y="573.20" width="4.57" height="2.34" fill="#FF9A62"/>
<rect x="625.94" y="569.29" width="4.57" height="3.91" fill="#3F6CCB"/>
<rect x="625.94" y="565.39" width="4.57" height="3.91" fill="#62C6F6"/>
<rect x="631.58" y="578.67" width="4.57" height="3.13" fill="#F80E0E"/>
<rect x="637.21" y="580.24" width="4.57" height="1.56" fill="#F80E0E"/>
<rect x="637.21" y="579.46" width="4.57" height="0.78" fill="#3F6CCB"/>
<rect x="642.85" y="580.63" width="4.57" height="1.17" fill="#F80E0E"/>
<rect x="642.85" y="577.50" width="4.57" height="3.13" fill="#3F6CCB"/>
<rect x="648.49" y="581.02" width="4.57" height="0.78" fill="#F80E0E"/>
<rect x="648.49" y="579.46" width="4.57" height="1.56" fill="#3F6CCB"/>
<rect x="648.49" y="579.06" width="4.57" height="0.39" fill="#62C6F6"/>
<rect x="654.12" y="581.02" width="4.57" height="0.78" fill="#F80E0E"/>
<rect x="654.12" y="578.67" width="4.57" height="2.34" fill="#3F6CCB"/>
<rect x="659.76" y="577.89" width="4.57" height="3.91" fill="#3F6CCB"/>
<rect x="665.40" y="581.02" width="4.57" height="0.78" fill="#FF9A62"/>
<rect x="665.40" y="578.67" width="4.57" height="2.34" fill="#3F6CCB"/>
<rect x="671.03" y="580.24" width="4.57" height="1.56" fill="#F80E0E"/>
<rect x="671.03" y="575.55" width="4.57" height="4.69" fill="#3F6CCB"/>
<rect x="671.03" y="572.42" width="4.57" height="3.13" fill="#62C6F6"/>
<rect x="676.67" y="580.63" width="4.57" height="1.17" fill="#FF9A62"/>
<rect x="676.67" y="573.59" width="4.57" height="7.03" fill="#3F6CCB"/>
<rect x="676.67" y="571.25" width="4.57" height="2.34" fill="#62C6F6"/>
<rect x="682.31" y="579.06" width="4.57" height="2.74" fill="#3F6CCB"/>
<rect x="682.31" y="577.50" width="4.57" height="1.56" fill="#22F2C6"/>
<rect x="687.94" y="581.02" width="4.57" height="0.78" fill="#F80E0E"/>
<rect x="687.94" y="576.33" width="4.57" height="4.69" fill="#3F6CCB"/>
<rect x="693.58" y="579.46" width="4.57" height="2.34" fill="#F80E0E"/>
<rect x="693.58" y="570.08" width="4.57" height="9.38" fill="#3F6CCB"/>
<rect x="699.22" y="577.50" width="4.57" height="4.30" fill="#3F6CCB"/>
<rect x="704.85" y="575.78" width="4.57" height="6.02" fill="#3F6CCB"/>
<rect x="710.49" y="574.22" width="4.57" height="7.58" fill="#3F6CCB"/>
<rect x="716.13" y="577.11" width="4.57" height="4.69" fill="#3F6CCB"/>
<rect x="716.13" y="576.33" width="4.57" height="0.78" fill="#62C6F6"/>
<rect x="721.76" y="581.41" width="4.57" height="0.39" fill="#3F6CCB"/>
<path d="M439.40,386.40V581.80M732.50,386.40V581.80M439.40,581.80H732.50" stroke="#8a8a8a" stroke-width="1.1" fill="none"/>
<path d="M436.40,581.80H439.40M436.40,542.72H439.40M436.40,503.64H439.40M436.40,464.56H439.40M436.40,425.48H439.40M436.40,386.40H439.40M732.50,581.80H735.50M732.50,562.26H735.50M732.50,542.72H735.50M732.50,523.18H735.50M732.50,503.64H735.50M732.50,484.10H735.50M732.50,464.56H735.50M732.50,445.02H735.50M732.50,425.48H735.50M732.50,405.94H735.50M732.50,386.40H735.50M439.40,581.80V585.80M445.04,581.80V585.80M450.67,581.80V585.80M456.31,581.80V585.80M461.95,581.80V585.80M467.58,581.80V585.80M473.22,581.80V585.80M478.86,581.80V585.80M484.49,581.80V585.80M490.13,581.80V585.80M495.77,581.80V585.80M501.40,581.80V585.80M507.04,581.80V585.80M512.67,581.80V585.80M518.31,581.80V585.80M523.95,581.80V585.80M529.58,581.80V585.80M535.22,581.80V585.80M540.86,581.80V585.80M546.49,581.80V585.80M552.13,581.80V585.80M557.77,581.80V585.80M563.40,581.80V585.80M569.04,581.80V585.80M574.68,581.80V585.80M580.31,581.80V585.80M585.95,581.80V585.80M591.59,581.80V585.80M597.22,581.80V585.80M602.86,581.80V585.80M608.50,581.80V585.80M614.13,581.80V585.80M619.77,581.80V585.80M625.41,581.80V585.80M631.04,581.80V585.80M636.68,581.80V585.80M642.32,581.80V585.80M647.95,581.80V585.80M653.59,581.80V585.80M659.23,581.80V585.80M664.86,581.80V585.80M670.50,581.80V585.80M676.13,581.80V585.80M681.77,581.80V585.80M687.41,581.80V585.80M693.04,581.80V585.80M698.68,581.80V585.80M704.32,581.80V585.80M709.95,581.80V585.80M715.59,581.80V585.80M721.23,581.80V585.80M726.86,581.80V585.80M732.50,581.80V585.80" stroke="#8a8a8a" stroke-width="0.9" fill="none"/>
<text x="427.80" y="586.42" font-size="13.2" fill="#333" stroke="#333" stroke-width="0.3" textLength="4.40" lengthAdjust="spacingAndGlyphs">0</text>
<text x="423.39" y="547.34" font-size="13.2" fill="#333" stroke="#333" stroke-width="0.3" textLength="8.81" lengthAdjust="spacingAndGlyphs">50</text>
<text x="418.99" y="508.26" font-size="13.2" fill="#333" stroke="#333" stroke-width="0.3" textLength="13.21" lengthAdjust="spacingAndGlyphs">100</text>
<text x="418.99" y="469.18" font-size="13.2" fill="#333" stroke="#333" stroke-width="0.3" textLength="13.21" lengthAdjust="spacingAndGlyphs">150</text>
<text x="418.99" y="430.10" font-size="13.2" fill="#333" stroke="#333" stroke-width="0.3" textLength="13.21" lengthAdjust="spacingAndGlyphs">200</text>
<text x="418.99" y="391.02" font-size="13.2" fill="#333" stroke="#333" stroke-width="0.3" textLength="13.21" lengthAdjust="spacingAndGlyphs">250</text>
<text x="741.50" y="586.42" font-size="13.2" fill="#333" stroke="#333" stroke-width="0.3" textLength="4.40" lengthAdjust="spacingAndGlyphs">0</text>
<text x="741.50" y="566.88" font-size="13.2" fill="#333" stroke="#333" stroke-width="0.3" textLength="4.40" lengthAdjust="spacingAndGlyphs">5</text>
<text x="741.50" y="547.34" font-size="13.2" fill="#333" stroke="#333" stroke-width="0.3" textLength="8.81" lengthAdjust="spacingAndGlyphs">10</text>
<text x="741.50" y="527.80" font-size="13.2" fill="#333" stroke="#333" stroke-width="0.3" textLength="8.81" lengthAdjust="spacingAndGlyphs">15</text>
<text x="741.50" y="508.26" font-size="13.2" fill="#333" stroke="#333" stroke-width="0.3" textLength="8.81" lengthAdjust="spacingAndGlyphs">20</text>
<text x="741.50" y="488.72" font-size="13.2" fill="#333" stroke="#333" stroke-width="0.3" textLength="8.81" lengthAdjust="spacingAndGlyphs">25</text>
<text x="741.50" y="469.18" font-size="13.2" fill="#333" stroke="#333" stroke-width="0.3" textLength="8.81" lengthAdjust="spacingAndGlyphs">30</text>
<text x="741.50" y="449.64" font-size="13.2" fill="#333" stroke="#333" stroke-width="0.3" textLength="8.81" lengthAdjust="spacingAndGlyphs">35</text>
<text x="741.50" y="430.10" font-size="13.2" fill="#333" stroke="#333" stroke-width="0.3" textLength="8.81" lengthAdjust="spacingAndGlyphs">40</text>
<text x="741.50" y="410.56" font-size="13.2" fill="#333" stroke="#333" stroke-width="0.3" textLength="8.81" lengthAdjust="spacingAndGlyphs">45</text>
<text x="741.50" y="391.02" font-size="13.2" fill="#333" stroke="#333" stroke-width="0.3" textLength="8.81" lengthAdjust="spacingAndGlyphs">50</text>
<text x="440.01" y="602.70" font-size="12.6" fill="#333" stroke="#333" stroke-width="0.3" textLength="4.41" lengthAdjust="spacingAndGlyphs">1</text>
<text x="451.28" y="602.70" font-size="12.6" fill="#333" stroke="#333" stroke-width="0.3" textLength="4.41" lengthAdjust="spacingAndGlyphs">3</text>
<text x="462.56" y="602.70" font-size="12.6" fill="#333" stroke="#333" stroke-width="0.3" textLength="4.41" lengthAdjust="spacingAndGlyphs">5</text>
<text x="473.83" y="602.70" font-size="12.6" fill="#333" stroke="#333" stroke-width="0.3" textLength="4.41" lengthAdjust="spacingAndGlyphs">7</text>
<text x="485.10" y="602.70" font-size="12.6" fill="#333" stroke="#333" stroke-width="0.3" textLength="4.41" lengthAdjust="spacingAndGlyphs">9</text>
<text x="494.46" y="602.70" font-size="12.6" fill="#333" stroke="#333" stroke-width="0.3" textLength="8.24" lengthAdjust="spacingAndGlyphs">11</text>
<text x="505.44" y="602.70" font-size="12.6" fill="#333" stroke="#333" stroke-width="0.3" textLength="8.83" lengthAdjust="spacingAndGlyphs">13</text>
<text x="516.72" y="602.70" font-size="12.6" fill="#333" stroke="#333" stroke-width="0.3" textLength="8.83" lengthAdjust="spacingAndGlyphs">15</text>
<text x="527.99" y="602.70" font-size="12.6" fill="#333" stroke="#333" stroke-width="0.3" textLength="8.83" lengthAdjust="spacingAndGlyphs">17</text>
<text x="539.26" y="602.70" font-size="12.6" fill="#333" stroke="#333" stroke-width="0.3" textLength="8.83" lengthAdjust="spacingAndGlyphs">19</text>
<text x="550.53" y="602.70" font-size="12.6" fill="#333" stroke="#333" stroke-width="0.3" textLength="8.83" lengthAdjust="spacingAndGlyphs">21</text>
<text x="561.81" y="602.70" font-size="12.6" fill="#333" stroke="#333" stroke-width="0.3" textLength="8.83" lengthAdjust="spacingAndGlyphs">23</text>
<text x="573.08" y="602.70" font-size="12.6" fill="#333" stroke="#333" stroke-width="0.3" textLength="8.83" lengthAdjust="spacingAndGlyphs">25</text>
<text x="584.35" y="602.70" font-size="12.6" fill="#333" stroke="#333" stroke-width="0.3" textLength="8.83" lengthAdjust="spacingAndGlyphs">27</text>
<text x="595.63" y="602.70" font-size="12.6" fill="#333" stroke="#333" stroke-width="0.3" textLength="8.83" lengthAdjust="spacingAndGlyphs">29</text>
<text x="606.90" y="602.70" font-size="12.6" fill="#333" stroke="#333" stroke-width="0.3" textLength="8.83" lengthAdjust="spacingAndGlyphs">31</text>
<text x="618.17" y="602.70" font-size="12.6" fill="#333" stroke="#333" stroke-width="0.3" textLength="8.83" lengthAdjust="spacingAndGlyphs">33</text>
<text x="629.45" y="602.70" font-size="12.6" fill="#333" stroke="#333" stroke-width="0.3" textLength="8.83" lengthAdjust="spacingAndGlyphs">35</text>
<text x="640.72" y="602.70" font-size="12.6" fill="#333" stroke="#333" stroke-width="0.3" textLength="8.83" lengthAdjust="spacingAndGlyphs">37</text>
<text x="651.99" y="602.70" font-size="12.6" fill="#333" stroke="#333" stroke-width="0.3" textLength="8.83" lengthAdjust="spacingAndGlyphs">39</text>
<text x="663.27" y="602.70" font-size="12.6" fill="#333" stroke="#333" stroke-width="0.3" textLength="8.83" lengthAdjust="spacingAndGlyphs">41</text>
<text x="674.54" y="602.70" font-size="12.6" fill="#333" stroke="#333" stroke-width="0.3" textLength="8.83" lengthAdjust="spacingAndGlyphs">43</text>
<text x="685.81" y="602.70" font-size="12.6" fill="#333" stroke="#333" stroke-width="0.3" textLength="8.83" lengthAdjust="spacingAndGlyphs">45</text>
<text x="697.08" y="602.70" font-size="12.6" fill="#333" stroke="#333" stroke-width="0.3" textLength="8.83" lengthAdjust="spacingAndGlyphs">47</text>
<text x="708.36" y="602.70" font-size="12.6" fill="#333" stroke="#333" stroke-width="0.3" textLength="8.83" lengthAdjust="spacingAndGlyphs">49</text>
<text x="719.63" y="602.70" font-size="12.6" fill="#333" stroke="#333" stroke-width="0.3" textLength="8.83" lengthAdjust="spacingAndGlyphs">51</text>
<polyline points="442.22,551.32 447.85,574.77 453.49,565.78 459.13,568.12 464.76,570.47 470.40,571.25 476.04,548.58 481.67,544.28 487.31,555.42 492.95,541.94 498.58,529.43 504.22,542.72 509.86,562.26 515.49,547.02 521.13,541.16 526.77,542.33 532.40,517.71 538.04,551.32 543.68,552.49 549.31,572.03 554.95,572.03 560.59,539.98 566.22,544.28 571.86,539.98 577.50,513.02 583.13,482.93 588.77,422.74 594.40,400.86 600.04,407.89 605.68,485.27 611.31,450.88 616.95,525.92 622.59,534.51 628.22,551.71 633.86,571.64 639.50,573.98 645.13,569.29 650.77,575.94 656.41,573.59 662.04,570.86 667.68,574.37 673.32,547.80 678.95,548.97 684.59,566.17 690.23,567.34 695.86,553.27 701.50,570.08 707.14,560.31 712.77,557.57 718.41,555.23 724.05,577.11 729.68,581.80" fill="none" stroke="#111" stroke-width="1.15" stroke-linejoin="miter"/>
<polyline points="459.13,565.00 464.76,569.78 470.40,568.90 476.04,564.60 481.67,558.65 487.31,554.88 492.95,547.56 498.58,542.77 504.22,542.38 509.86,544.09 515.49,545.36 521.13,548.29 526.77,548.19 532.40,537.05 538.04,538.13 543.68,540.96 549.31,548.39 554.95,561.97 560.59,559.13 566.22,557.08 571.86,549.07 577.50,534.32 583.13,520.05 588.77,489.67 594.40,454.89 600.04,428.61 605.68,429.19 611.31,436.23 616.95,467.49 622.59,499.15 628.22,515.75 633.86,545.94 639.50,557.96 645.13,566.66 650.77,572.71 656.41,573.20 662.04,572.42 667.68,573.69 673.32,566.66 678.95,560.50 684.59,559.33 690.23,557.57 695.86,558.94 701.50,564.21 707.14,562.75 712.77,560.31 718.41,560.79 724.05,562.55 729.68,567.93" fill="none" stroke="#111" stroke-width="2" stroke-dasharray="4.2,2.6"/>
<rect x="444.20" y="352.00" width="22.90" height="5.60" fill="#C8380C"/>
<text x="469.20" y="357.60" font-size="8.6" fill="#3a3a3a" stroke="#3a3a3a" stroke-width="0.12" textLength="15.72" lengthAdjust="spacingAndGlyphs">A(H1)</text>
<rect x="444.20" y="367.00" width="22.90" height="5.60" fill="#FF6A0E"/>
<text x="469.20" y="372.60" font-size="8.6" fill="#3a3a3a" stroke="#3a3a3a" stroke-width="0.12" textLength="15.72" lengthAdjust="spacingAndGlyphs">A(H3)</text>
<rect x="444.20" y="382.00" width="22.90" height="5.60" fill="#F80E0E"/>
<text x="469.20" y="387.60" font-size="8.6" fill="#3a3a3a" stroke="#3a3a3a" stroke-width="0.12" textLength="59.22" lengthAdjust="spacingAndGlyphs">A(H1) Pandemic 2009</text>
<rect x="444.20" y="397.00" width="22.90" height="5.60" fill="#FF9A62"/>
<text x="469.20" y="402.60" font-size="8.6" fill="#3a3a3a" stroke="#3a3a3a" stroke-width="0.12" textLength="79.31" lengthAdjust="spacingAndGlyphs">A Unsubtypable/Not subtyped</text>
<rect x="444.20" y="412.00" width="22.90" height="5.60" fill="#3F6CCB"/>
<text x="469.20" y="417.60" font-size="8.6" fill="#3a3a3a" stroke="#3a3a3a" stroke-width="0.12" textLength="25.65" lengthAdjust="spacingAndGlyphs">B Victoria</text>
<rect x="444.20" y="427.00" width="22.90" height="5.60" fill="#22F2C6"/>
<text x="469.20" y="432.60" font-size="8.6" fill="#3a3a3a" stroke="#3a3a3a" stroke-width="0.12" textLength="32.57" lengthAdjust="spacingAndGlyphs">B Yamagata</text>
<rect x="444.20" y="442.00" width="22.90" height="5.60" fill="#62C6F6"/>
<text x="469.20" y="447.60" font-size="8.6" fill="#3a3a3a" stroke="#3a3a3a" stroke-width="0.12" textLength="79.64" lengthAdjust="spacingAndGlyphs">B Unsubtypable/Not subtyped</text>
<path d="M444.20,459.80H467.10" stroke="#111" stroke-width="1.3"/>
<text x="469.20" y="462.60" font-size="8.6" fill="#3a3a3a" stroke="#3a3a3a" stroke-width="0.12" textLength="61.23" lengthAdjust="spacingAndGlyphs">Influenza positivity rate</text>
<path d="M444.20,474.80H467.10" stroke="#111" stroke-width="2" stroke-dasharray="3.2,1.8"/>
<text x="469.20" y="477.60" font-size="8.6" fill="#3a3a3a" stroke="#3a3a3a" stroke-width="0.12" textLength="109.52" lengthAdjust="spacingAndGlyphs">4 per. Mov. Avg. (Influenza positivity rate)</text>
<text x="571.90" y="362.00" font-size="18.5" fill="#111" stroke="#111" stroke-width="0.3" textLength="25.70" lengthAdjust="spacingAndGlyphs">2009</text>
<text x="634.40" y="393.50" font-size="12" fill="#333" stroke="#333" stroke-width="0.3" textLength="93.80" lengthAdjust="spacingAndGlyphs">Average weekly influenza</text>
<text x="634.40" y="410.80" font-size="12" fill="#333" stroke="#333" stroke-width="0.3" textLength="63.50" lengthAdjust="spacingAndGlyphs">positivity rate: 10</text>
<g transform="translate(415.00,484.20) rotate(-90) scale(1,0.74)"><text x="-51.50" y="0" font-size="12.8" font-weight="bold" fill="#000" textLength="103.00" lengthAdjust="spacingAndGlyphs">Number of cases</text></g>
<g transform="translate(762.00,484.50) rotate(-90) scale(1,0.74)"><text x="-72.25" y="0" font-size="12.8" font-weight="bold" fill="#000" textLength="144.50" lengthAdjust="spacingAndGlyphs">Influenza positivity rate</text></g>
<text x="554.40" y="625.50" font-size="12.2" font-weight="bold" fill="#111" stroke="#111" stroke-width="0.3" textLength="61.60" lengthAdjust="spacingAndGlyphs">Morbidity week</text>
<rect x="1.4" y="660.0" width="382.40000000000003" height="317.29999999999995" fill="#fff" stroke="#d6d6d6" stroke-width="1.2"/>
<rect x="47.94" y="910.07" width="4.56" height="1.23" fill="#C8380C"/>
<rect x="47.94" y="907.87" width="4.56" height="2.21" fill="#FF9A62"/>
<rect x="47.94" y="904.93" width="4.56" height="2.94" fill="#3F6CCB"/>
<rect x="47.94" y="903.95" width="4.56" height="0.98" fill="#62C6F6"/>
<rect x="53.57" y="906.40" width="4.56" height="4.90" fill="#F80E0E"/>
<rect x="53.57" y="903.95" width="4.56" height="2.45" fill="#FF9A62"/>
<rect x="53.57" y="895.37" width="4.56" height="8.58" fill="#3F6CCB"/>
<rect x="53.57" y="893.53" width="4.56" height="1.84" fill="#62C6F6"/>
<rect x="59.20" y="910.07" width="4.56" height="1.23" fill="#3F6CCB"/>
<rect x="59.20" y="908.85" width="4.56" height="1.23" fill="#62C6F6"/>
<rect x="64.84" y="908.85" width="4.56" height="2.45" fill="#F80E0E"/>
<rect x="64.84" y="906.40" width="4.56" height="2.45" fill="#3F6CCB"/>
<rect x="64.84" y="905.17" width="4.56" height="1.23" fill="#62C6F6"/>
<rect x="70.47" y="903.33" width="4.56" height="7.97" fill="#F80E0E"/>
<rect x="70.47" y="897.21" width="4.56" height="6.13" fill="#3F6CCB"/>
<rect x="70.47" y="895.98" width="4.56" height="1.23" fill="#62C6F6"/>
<rect x="76.11" y="903.95" width="4.56" height="7.35" fill="#F80E0E"/>
<rect x="76.11" y="869.63" width="4.56" height="34.32" fill="#3F6CCB"/>
<rect x="81.74" y="892.92" width="4.56" height="18.38" fill="#F80E0E"/>
<rect x="81.74" y="886.79" width="4.56" height="6.13" fill="#3F6CCB"/>
<rect x="87.38" y="901.50" width="4.56" height="9.80" fill="#F80E0E"/>
<rect x="87.38" y="896.59" width="4.56" height="4.90" fill="#3F6CCB"/>
<rect x="87.38" y="894.14" width="4.56" height="2.45" fill="#62C6F6"/>
<rect x="93.01" y="910.69" width="4.56" height="0.61" fill="#F80E0E"/>
<rect x="93.01" y="909.46" width="4.56" height="1.23" fill="#FF9A62"/>
<rect x="93.01" y="903.33" width="4.56" height="6.13" fill="#3F6CCB"/>
<rect x="98.65" y="903.33" width="4.56" height="7.97" fill="#F80E0E"/>
<rect x="98.65" y="894.75" width="4.56" height="8.58" fill="#3F6CCB"/>
<rect x="104.28" y="908.85" width="4.56" height="2.45" fill="#F80E0E"/>
<rect x="104.28" y="903.95" width="4.56" height="4.90" fill="#3F6CCB"/>
<rect x="104.28" y="896.59" width="4.56" height="7.35" fill="#62C6F6"/>
<rect x="109.92" y="905.17" width="4.56" height="6.13" fill="#F80E0E"/>
<rect x="109.92" y="897.82" width="4.56" height="7.35" fill="#3F6CCB"/>
<rect x="115.55" y="903.95" width="4.56" height="7.35" fill="#F80E0E"/>
<rect x="115.55" y="899.04" width="4.56" height="4.90" fill="#3F6CCB"/>
<rect x="121.19" y="903.95" width="4.56" height="7.35" fill="#F80E0E"/>
<rect x="121.19" y="892.92" width="4.56" height="11.03" fill="#3F6CCB"/>
<rect x="126.82" y="908.85" width="4.56" height="2.45" fill="#F80E0E"/>
<rect x="126.82" y="901.50" width="4.56" height="7.35" fill="#3F6CCB"/>
<rect x="132.45" y="905.17" width="4.56" height="6.13" fill="#F80E0E"/>
<rect x="132.45" y="900.27" width="4.56" height="4.90" fill="#3F6CCB"/>
<rect x="132.45" y="899.04" width="4.56" height="1.23" fill="#62C6F6"/>
<rect x="138.09" y="907.62" width="4.56" height="3.68" fill="#F80E0E"/>
<rect x="138.09" y="905.17" width="4.56" height="2.45" fill="#3F6CCB"/>
<rect x="138.09" y="903.95" width="4.56" height="1.23" fill="#62C6F6"/>
<rect x="143.72" y="907.62" width="4.56" height="3.68" fill="#3F6CCB"/>
<rect x="149.36" y="907.62" width="4.56" height="3.68" fill="#F80E0E"/>
<rect x="154.99" y="895.37" width="4.56" height="15.93" fill="#F80E0E"/>
<rect x="154.99" y="890.46" width="4.56" height="4.90" fill="#3F6CCB"/>
<rect x="160.63" y="902.11" width="4.56" height="9.19" fill="#F80E0E"/>
<rect x="160.63" y="899.66" width="4.56" height="2.45" fill="#3F6CCB"/>
<rect x="160.63" y="898.43" width="4.56" height="1.23" fill="#62C6F6"/>
<rect x="166.26" y="903.33" width="4.56" height="7.97" fill="#F80E0E"/>
<rect x="166.26" y="899.66" width="4.56" height="3.68" fill="#3F6CCB"/>
<rect x="171.90" y="905.17" width="4.56" height="6.13" fill="#F80E0E"/>
<rect x="171.90" y="899.04" width="4.56" height="6.13" fill="#3F6CCB"/>
<rect x="177.53" y="896.59" width="4.56" height="14.71" fill="#F80E0E"/>
<rect x="177.53" y="884.34" width="4.56" height="12.26" fill="#3F6CCB"/>
<rect x="177.53" y="881.88" width="4.56" height="2.45" fill="#62C6F6"/>
<rect x="183.17" y="888.63" width="4.56" height="22.67" fill="#F80E0E"/>
<rect x="183.17" y="877.60" width="4.56" height="11.03" fill="#3F6CCB"/>
<rect x="183.17" y="874.53" width="4.56" height="3.06" fill="#62C6F6"/>
<rect x="188.80" y="907.62" width="4.56" height="3.68" fill="#FF6A0E"/>
<rect x="188.80" y="873.31" width="4.56" height="34.32" fill="#F80E0E"/>
<rect x="188.80" y="861.05" width="4.56" height="12.26" fill="#3F6CCB"/>
<rect x="188.80" y="857.37" width="4.56" height="3.68" fill="#62C6F6"/>
<rect x="194.44" y="905.17" width="4.56" height="6.13" fill="#FF6A0E"/>
<rect x="194.44" y="872.08" width="4.56" height="33.09" fill="#F80E0E"/>
<rect x="194.44" y="869.63" width="4.56" height="2.45" fill="#FF9A62"/>
<rect x="194.44" y="856.15" width="4.56" height="13.48" fill="#3F6CCB"/>
<rect x="194.44" y="848.79" width="4.56" height="7.35" fill="#62C6F6"/>
<rect x="200.07" y="843.89" width="4.56" height="67.41" fill="#F80E0E"/>
<rect x="200.07" y="824.28" width="4.56" height="19.61" fill="#3F6CCB"/>
<rect x="200.07" y="818.15" width="4.56" height="6.13" fill="#62C6F6"/>
<rect x="205.70" y="895.37" width="4.56" height="15.93" fill="#FF6A0E"/>
<rect x="205.70" y="863.50" width="4.56" height="31.87" fill="#F80E0E"/>
<rect x="205.70" y="857.74" width="4.56" height="5.76" fill="#FF9A62"/>
<rect x="205.70" y="838.50" width="4.56" height="19.24" fill="#3F6CCB"/>
<rect x="205.70" y="831.76" width="4.56" height="6.74" fill="#62C6F6"/>
<rect x="211.34" y="896.59" width="4.56" height="14.71" fill="#FF6A0E"/>
<rect x="211.34" y="843.89" width="4.56" height="52.70" fill="#F80E0E"/>
<rect x="211.34" y="841.81" width="4.56" height="2.08" fill="#FF9A62"/>
<rect x="211.34" y="817.91" width="4.56" height="23.90" fill="#3F6CCB"/>
<rect x="211.34" y="797.07" width="4.56" height="20.84" fill="#62C6F6"/>
<rect x="216.97" y="892.92" width="4.56" height="18.38" fill="#FF6A0E"/>
<rect x="216.97" y="840.21" width="4.56" height="52.70" fill="#F80E0E"/>
<rect x="216.97" y="837.76" width="4.56" height="2.45" fill="#FF9A62"/>
<rect x="216.97" y="818.52" width="4.56" height="19.24" fill="#3F6CCB"/>
<rect x="216.97" y="794.01" width="4.56" height="24.51" fill="#62C6F6"/>
<rect x="222.61" y="875.76" width="4.56" height="35.54" fill="#FF6A0E"/>
<rect x="222.61" y="831.63" width="4.56" height="44.12" fill="#F80E0E"/>
<rect x="222.61" y="826.73" width="4.56" height="4.90" fill="#FF9A62"/>
<rect x="222.61" y="802.22" width="4.56" height="24.51" fill="#3F6CCB"/>
<rect x="222.61" y="778.93" width="4.56" height="23.29" fill="#62C6F6"/>
<rect x="228.24" y="856.15" width="4.56" height="55.15" fill="#FF6A0E"/>
<rect x="228.24" y="820.60" width="4.56" height="35.54" fill="#F80E0E"/>
<rect x="228.24" y="818.15" width="4.56" height="2.45" fill="#FF9A62"/>
<rect x="228.24" y="765.45" width="4.56" height="52.70" fill="#3F6CCB"/>
<rect x="228.24" y="729.91" width="4.56" height="35.54" fill="#62C6F6"/>
<rect x="233.88" y="874.53" width="4.56" height="36.77" fill="#FF6A0E"/>
<rect x="233.88" y="837.15" width="4.56" height="37.38" fill="#F80E0E"/>
<rect x="233.88" y="835.07" width="4.56" height="2.08" fill="#FF9A62"/>
<rect x="233.88" y="772.56" width="4.56" height="62.51" fill="#3F6CCB"/>
<rect x="233.88" y="735.79" width="4.56" height="36.77" fill="#62C6F6"/>
<rect x="239.51" y="875.76" width="4.56" height="35.54" fill="#FF6A0E"/>
<rect x="239.51" y="871.71" width="4.56" height="4.04" fill="#F80E0E"/>
<rect x="239.51" y="869.63" width="4.56" height="2.08" fill="#FF9A62"/>
<rect x="239.51" y="835.31" width="4.56" height="34.32" fill="#3F6CCB"/>
<rect x="239.51" y="827.10" width="4.56" height="8.21" fill="#62C6F6"/>
<rect x="245.15" y="886.79" width="4.56" height="24.51" fill="#FF6A0E"/>
<rect x="245.15" y="882.25" width="4.56" height="4.53" fill="#F80E0E"/>
<rect x="245.15" y="842.42" width="4.56" height="39.83" fill="#3F6CCB"/>
<rect x="250.78" y="881.39" width="4.56" height="29.91" fill="#FF6A0E"/>
<rect x="250.78" y="874.65" width="4.56" height="6.74" fill="#F80E0E"/>
<rect x="250.78" y="818.28" width="4.56" height="56.38" fill="#3F6CCB"/>
<rect x="250.78" y="808.47" width="4.56" height="9.80" fill="#62C6F6"/>
<rect x="256.42" y="896.10" width="4.56" height="15.20" fill="#FF6A0E"/>
<rect x="256.42" y="894.02" width="4.56" height="2.08" fill="#F80E0E"/>
<rect x="256.42" y="826.61" width="4.56" height="67.41" fill="#3F6CCB"/>
<rect x="256.42" y="802.10" width="4.56" height="24.51" fill="#62C6F6"/>
<rect x="262.05" y="894.14" width="4.56" height="17.16" fill="#FF6A0E"/>
<rect x="262.05" y="891.32" width="4.56" height="2.82" fill="#F80E0E"/>
<rect x="262.05" y="860.68" width="4.56" height="30.64" fill="#3F6CCB"/>
<rect x="262.05" y="836.17" width="4.56" height="24.51" fill="#62C6F6"/>
<rect x="267.69" y="897.82" width="4.56" height="13.48" fill="#FF6A0E"/>
<rect x="267.69" y="872.08" width="4.56" height="25.74" fill="#3F6CCB"/>
<rect x="267.69" y="862.27" width="4.56" height="9.80" fill="#62C6F6"/>
<rect x="273.32" y="899.04" width="4.56" height="12.26" fill="#FF6A0E"/>
<rect x="273.32" y="864.73" width="4.56" height="34.32" fill="#3F6CCB"/>
<rect x="273.32" y="856.15" width="4.56" height="8.58" fill="#62C6F6"/>
<rect x="278.95" y="903.95" width="4.56" height="7.35" fill="#FF6A0E"/>
<rect x="278.95" y="896.59" width="4.56" height="7.35" fill="#3F6CCB"/>
<rect x="284.59" y="907.26" width="4.56" height="4.04" fill="#FF6A0E"/>
<rect x="284.59" y="893.77" width="4.56" height="13.48" fill="#3F6CCB"/>
<rect x="290.22" y="905.54" width="4.56" height="5.76" fill="#3F6CCB"/>
<rect x="295.86" y="907.62" width="4.56" height="3.68" fill="#FF6A0E"/>
<rect x="295.86" y="906.40" width="4.56" height="1.23" fill="#F80E0E"/>
<rect x="295.86" y="896.59" width="4.56" height="9.80" fill="#3F6CCB"/>
<rect x="301.49" y="909.22" width="4.56" height="2.08" fill="#FF6A0E"/>
<rect x="301.49" y="905.54" width="4.56" height="3.68" fill="#3F6CCB"/>
<rect x="301.49" y="903.46" width="4.56" height="2.08" fill="#62C6F6"/>
<rect x="307.13" y="910.07" width="4.56" height="1.23" fill="#FF6A0E"/>
<rect x="307.13" y="903.33" width="4.56" height="6.74" fill="#3F6CCB"/>
<rect x="307.13" y="894.75" width="4.56" height="8.58" fill="#62C6F6"/>
<rect x="312.76" y="907.62" width="4.56" height="3.68" fill="#3F6CCB"/>
<rect x="318.40" y="908.85" width="4.56" height="2.45" fill="#3F6CCB"/>
<rect x="324.03" y="909.46" width="4.56" height="1.84" fill="#F80E0E"/>
<rect x="324.03" y="905.78" width="4.56" height="3.68" fill="#3F6CCB"/>
<rect x="324.03" y="903.95" width="4.56" height="1.84" fill="#62C6F6"/>
<rect x="329.67" y="910.07" width="4.56" height="1.23" fill="#3F6CCB"/>
<path d="M47.40,715.20V911.30M340.40,715.20V911.30M47.40,911.30H340.40" stroke="#8a8a8a" stroke-width="1.1" fill="none"/>
<path d="M44.40,911.30H47.40M44.40,886.79H47.40M44.40,862.27H47.40M44.40,837.76H47.40M44.40,813.25H47.40M44.40,788.74H47.40M44.40,764.23H47.40M44.40,739.71H47.40M44.40,715.20H47.40M340.40,911.30H343.40M340.40,886.79H343.40M340.40,862.27H343.40M340.40,837.76H343.40M340.40,813.25H343.40M340.40,788.74H343.40M340.40,764.23H343.40M340.40,739.71H343.40M340.40,715.20H343.40M47.40,911.30V915.30M53.03,911.30V915.30M58.67,911.30V915.30M64.30,911.30V915.30M69.94,911.30V915.30M75.57,911.30V915.30M81.21,911.30V915.30M86.84,911.30V915.30M92.48,911.30V915.30M98.11,911.30V915.30M103.75,911.30V915.30M109.38,911.30V915.30M115.02,911.30V915.30M120.65,911.30V915.30M126.28,911.30V915.30M131.92,911.30V915.30M137.55,911.30V915.30M143.19,911.30V915.30M148.82,911.30V915.30M154.46,911.30V915.30M160.09,911.30V915.30M165.73,911.30V915.30M171.36,911.30V915.30M177.00,911.30V915.30M182.63,911.30V915.30M188.27,911.30V915.30M193.90,911.30V915.30M199.53,911.30V915.30M205.17,911.30V915.30M210.80,911.30V915.30M216.44,911.30V915.30M222.07,911.30V915.30M227.71,911.30V915.30M233.34,911.30V915.30M238.98,911.30V915.30M244.61,911.30V915.30M250.25,911.30V915.30M255.88,911.30V915.30M261.52,911.30V915.30M267.15,911.30V915.30M272.78,911.30V915.30M278.42,911.30V915.30M284.05,911.30V915.30M289.69,911.30V915.30M295.32,911.30V915.30M300.96,911.30V915.30M306.59,911.30V915.30M312.23,911.30V915.30M317.86,911.30V915.30M323.50,911.30V915.30M329.13,911.30V915.30M334.77,911.30V915.30M340.40,911.30V915.30" stroke="#8a8a8a" stroke-width="0.9" fill="none"/>
<text x="35.80" y="915.92" font-size="13.2" fill="#333" stroke="#333" stroke-width="0.3" textLength="4.40" lengthAdjust="spacingAndGlyphs">0</text>
<text x="31.39" y="891.41" font-size="13.2" fill="#333" stroke="#333" stroke-width="0.3" textLength="8.81" lengthAdjust="spacingAndGlyphs">20</text>
<text x="31.39" y="866.89" font-size="13.2" fill="#333" stroke="#333" stroke-width="0.3" textLength="8.81" lengthAdjust="spacingAndGlyphs">40</text>
<text x="31.39" y="842.38" font-size="13.2" fill="#333" stroke="#333" stroke-width="0.3" textLength="8.81" lengthAdjust="spacingAndGlyphs">60</text>
<text x="31.39" y="817.87" font-size="13.2" fill="#333" stroke="#333" stroke-width="0.3" textLength="8.81" lengthAdjust="spacingAndGlyphs">80</text>
<text x="26.99" y="793.36" font-size="13.2" fill="#333" stroke="#333" stroke-width="0.3" textLength="13.21" lengthAdjust="spacingAndGlyphs">100</text>
<text x="26.99" y="768.85" font-size="13.2" fill="#333" stroke="#333" stroke-width="0.3" textLength="13.21" lengthAdjust="spacingAndGlyphs">120</text>
<text x="26.99" y="744.33" font-size="13.2" fill="#333" stroke="#333" stroke-width="0.3" textLength="13.21" lengthAdjust="spacingAndGlyphs">140</text>
<text x="26.99" y="719.82" font-size="13.2" fill="#333" stroke="#333" stroke-width="0.3" textLength="13.21" lengthAdjust="spacingAndGlyphs">160</text>
<text x="349.40" y="915.92" font-size="13.2" fill="#333" stroke="#333" stroke-width="0.3" textLength="4.40" lengthAdjust="spacingAndGlyphs">0</text>
<text x="349.40" y="891.41" font-size="13.2" fill="#333" stroke="#333" stroke-width="0.3" textLength="4.40" lengthAdjust="spacingAndGlyphs">5</text>
<text x="349.40" y="866.89" font-size="13.2" fill="#333" stroke="#333" stroke-width="0.3" textLength="8.81" lengthAdjust="spacingAndGlyphs">10</text>
<text x="349.40" y="842.38" font-size="13.2" fill="#333" stroke="#333" stroke-width="0.3" textLength="8.81" lengthAdjust="spacingAndGlyphs">15</text>
<text x="349.40" y="817.87" font-size="13.2" fill="#333" stroke="#333" stroke-width="0.3" textLength="8.81" lengthAdjust="spacingAndGlyphs">20</text>
<text x="349.40" y="793.36" font-size="13.2" fill="#333" stroke="#333" stroke-width="0.3" textLength="8.81" lengthAdjust="spacingAndGlyphs">25</text>
<text x="349.40" y="768.85" font-size="13.2" fill="#333" stroke="#333" stroke-width="0.3" textLength="8.81" lengthAdjust="spacingAndGlyphs">30</text>
<text x="349.40" y="744.33" font-size="13.2" fill="#333" stroke="#333" stroke-width="0.3" textLength="8.81" lengthAdjust="spacingAndGlyphs">35</text>
<text x="349.40" y="719.82" font-size="13.2" fill="#333" stroke="#333" stroke-width="0.3" textLength="8.81" lengthAdjust="spacingAndGlyphs">40</text>
<text x="48.01" y="932.60" font-size="12.6" fill="#333" stroke="#333" stroke-width="0.3" textLength="4.41" lengthAdjust="spacingAndGlyphs">1</text>
<text x="59.28" y="932.60" font-size="12.6" fill="#333" stroke="#333" stroke-width="0.3" textLength="4.41" lengthAdjust="spacingAndGlyphs">3</text>
<text x="70.55" y="932.60" font-size="12.6" fill="#333" stroke="#333" stroke-width="0.3" textLength="4.41" lengthAdjust="spacingAndGlyphs">5</text>
<text x="81.82" y="932.60" font-size="12.6" fill="#333" stroke="#333" stroke-width="0.3" textLength="4.41" lengthAdjust="spacingAndGlyphs">7</text>
<text x="93.09" y="932.60" font-size="12.6" fill="#333" stroke="#333" stroke-width="0.3" textLength="4.41" lengthAdjust="spacingAndGlyphs">9</text>
<text x="102.44" y="932.60" font-size="12.6" fill="#333" stroke="#333" stroke-width="0.3" textLength="8.24" lengthAdjust="spacingAndGlyphs">11</text>
<text x="113.42" y="932.60" font-size="12.6" fill="#333" stroke="#333" stroke-width="0.3" textLength="8.83" lengthAdjust="spacingAndGlyphs">13</text>
<text x="124.69" y="932.60" font-size="12.6" fill="#333" stroke="#333" stroke-width="0.3" textLength="8.83" lengthAdjust="spacingAndGlyphs">15</text>
<text x="135.96" y="932.60" font-size="12.6" fill="#333" stroke="#333" stroke-width="0.3" textLength="8.83" lengthAdjust="spacingAndGlyphs">17</text>
<text x="147.23" y="932.60" font-size="12.6" fill="#333" stroke="#333" stroke-width="0.3" textLength="8.83" lengthAdjust="spacingAndGlyphs">19</text>
<text x="158.50" y="932.60" font-size="12.6" fill="#333" stroke="#333" stroke-width="0.3" textLength="8.83" lengthAdjust="spacingAndGlyphs">21</text>
<text x="169.76" y="932.60" font-size="12.6" fill="#333" stroke="#333" stroke-width="0.3" textLength="8.83" lengthAdjust="spacingAndGlyphs">23</text>
<text x="181.03" y="932.60" font-size="12.6" fill="#333" stroke="#333" stroke-width="0.3" textLength="8.83" lengthAdjust="spacingAndGlyphs">25</text>
<text x="192.30" y="932.60" font-size="12.6" fill="#333" stroke="#333" stroke-width="0.3" textLength="8.83" lengthAdjust="spacingAndGlyphs">27</text>
<text x="203.57" y="932.60" font-size="12.6" fill="#333" stroke="#333" stroke-width="0.3" textLength="8.83" lengthAdjust="spacingAndGlyphs">29</text>
<text x="214.84" y="932.60" font-size="12.6" fill="#333" stroke="#333" stroke-width="0.3" textLength="8.83" lengthAdjust="spacingAndGlyphs">31</text>
<text x="226.11" y="932.60" font-size="12.6" fill="#333" stroke="#333" stroke-width="0.3" textLength="8.83" lengthAdjust="spacingAndGlyphs">33</text>
<text x="237.38" y="932.60" font-size="12.6" fill="#333" stroke="#333" stroke-width="0.3" textLength="8.83" lengthAdjust="spacingAndGlyphs">35</text>
<text x="248.65" y="932.60" font-size="12.6" fill="#333" stroke="#333" stroke-width="0.3" textLength="8.83" lengthAdjust="spacingAndGlyphs">37</text>
<text x="259.92" y="932.60" font-size="12.6" fill="#333" stroke="#333" stroke-width="0.3" textLength="8.83" lengthAdjust="spacingAndGlyphs">39</text>
<text x="271.19" y="932.60" font-size="12.6" fill="#333" stroke="#333" stroke-width="0.3" textLength="8.83" lengthAdjust="spacingAndGlyphs">41</text>
<text x="282.46" y="932.60" font-size="12.6" fill="#333" stroke="#333" stroke-width="0.3" textLength="8.83" lengthAdjust="spacingAndGlyphs">43</text>
<text x="293.73" y="932.60" font-size="12.6" fill="#333" stroke="#333" stroke-width="0.3" textLength="8.83" lengthAdjust="spacingAndGlyphs">45</text>
<text x="305.00" y="932.60" font-size="12.6" fill="#333" stroke="#333" stroke-width="0.3" textLength="8.83" lengthAdjust="spacingAndGlyphs">47</text>
<text x="316.26" y="932.60" font-size="12.6" fill="#333" stroke="#333" stroke-width="0.3" textLength="8.83" lengthAdjust="spacingAndGlyphs">49</text>
<text x="327.53" y="932.60" font-size="12.6" fill="#333" stroke="#333" stroke-width="0.3" textLength="8.83" lengthAdjust="spacingAndGlyphs">51</text>
<polyline points="50.22,896.59 55.85,874.53 61.49,906.89 67.12,900.51 72.76,878.94 78.39,843.16 84.03,866.69 89.66,878.45 95.29,895.12 100.93,875.02 106.56,876.98 112.20,877.96 117.83,865.22 123.47,865.22 129.10,883.85 134.74,877.47 140.37,886.79 146.01,894.63 151.64,897.08 157.28,846.10 162.91,874.53 168.54,870.61 174.18,878.94 179.81,830.90 185.45,832.37 191.08,811.78 196.72,820.60 202.35,790.70 207.99,805.90 213.62,766.68 219.26,777.46 224.89,775.01 230.53,739.22 236.16,744.62 241.79,767.17 247.43,776.97 253.06,762.26 258.70,759.32 264.33,790.70 269.97,822.56 275.60,804.92 281.24,864.24 286.87,838.25 292.51,876.49 298.14,871.59 303.77,878.45 309.41,870.61 315.04,900.02 320.68,903.95 326.31,876.98 331.95,900.02 337.58,911.30" fill="none" stroke="#111" stroke-width="1.15" stroke-linejoin="miter"/>
<polyline points="67.12,894.63 72.76,890.22 78.39,882.38 84.03,872.33 89.66,866.81 95.29,870.85 100.93,878.82 106.56,881.39 112.20,881.27 117.83,873.80 123.47,871.34 129.10,873.06 134.74,872.94 140.37,878.33 146.01,885.68 151.64,888.99 157.28,881.15 162.91,878.09 168.54,872.08 174.18,867.55 179.81,863.75 185.45,853.21 191.08,838.50 196.72,823.91 202.35,813.86 207.99,807.24 213.62,795.97 219.26,785.18 224.89,781.26 230.53,764.59 236.16,759.08 241.79,756.50 247.43,756.99 253.06,762.75 258.70,766.43 264.33,772.31 269.97,783.71 275.60,794.38 281.24,820.60 286.87,832.49 292.51,845.97 298.14,862.64 303.77,866.20 309.41,874.29 315.04,880.17 320.68,888.26 326.31,887.89 331.95,895.24 337.58,898.06" fill="none" stroke="#111" stroke-width="2" stroke-dasharray="4.2,2.6"/>
<rect x="53.40" y="678.50" width="22.90" height="5.60" fill="#C8380C"/>
<text x="78.90" y="684.10" font-size="8.6" fill="#3a3a3a" stroke="#3a3a3a" stroke-width="0.12" textLength="15.72" lengthAdjust="spacingAndGlyphs">A(H1)</text>
<rect x="53.40" y="693.55" width="22.90" height="5.60" fill="#FF6A0E"/>
<text x="78.90" y="699.15" font-size="8.6" fill="#3a3a3a" stroke="#3a3a3a" stroke-width="0.12" textLength="15.72" lengthAdjust="spacingAndGlyphs">A(H3)</text>
<rect x="53.40" y="708.60" width="22.90" height="5.60" fill="#F80E0E"/>
<text x="78.90" y="714.20" font-size="8.6" fill="#3a3a3a" stroke="#3a3a3a" stroke-width="0.12" textLength="59.22" lengthAdjust="spacingAndGlyphs">A(H1) Pandemic 2009</text>
<rect x="53.40" y="723.65" width="22.90" height="5.60" fill="#FF9A62"/>
<text x="78.90" y="729.25" font-size="8.6" fill="#3a3a3a" stroke="#3a3a3a" stroke-width="0.12" textLength="79.31" lengthAdjust="spacingAndGlyphs">A Unsubtypable/Not subtyped</text>
<rect x="53.40" y="738.70" width="22.90" height="5.60" fill="#3F6CCB"/>
<text x="78.90" y="744.30" font-size="8.6" fill="#3a3a3a" stroke="#3a3a3a" stroke-width="0.12" textLength="25.65" lengthAdjust="spacingAndGlyphs">B Victoria</text>
<rect x="53.40" y="753.75" width="22.90" height="5.60" fill="#22F2C6"/>
<text x="78.90" y="759.35" font-size="8.6" fill="#3a3a3a" stroke="#3a3a3a" stroke-width="0.12" textLength="32.57" lengthAdjust="spacingAndGlyphs">B Yamagata</text>
<rect x="53.40" y="768.80" width="22.90" height="5.60" fill="#62C6F6"/>
<text x="78.90" y="774.40" font-size="8.6" fill="#3a3a3a" stroke="#3a3a3a" stroke-width="0.12" textLength="79.64" lengthAdjust="spacingAndGlyphs">B Unsubtypable/Not subtyped</text>
<path d="M53.40,786.65H76.30" stroke="#111" stroke-width="1.3"/>
<text x="78.90" y="789.45" font-size="8.6" fill="#3a3a3a" stroke="#3a3a3a" stroke-width="0.12" textLength="61.23" lengthAdjust="spacingAndGlyphs">Influenza positivity rate</text>
<path d="M53.40,801.70H76.30" stroke="#111" stroke-width="2" stroke-dasharray="3.2,1.8"/>
<text x="78.90" y="804.50" font-size="8.6" fill="#3a3a3a" stroke="#3a3a3a" stroke-width="0.12" textLength="109.52" lengthAdjust="spacingAndGlyphs">4 per. Mov. Avg. (Influenza positivity rate)</text>
<text x="179.60" y="691.20" font-size="18.5" fill="#111" stroke="#111" stroke-width="0.3" textLength="25.70" lengthAdjust="spacingAndGlyphs">2010</text>
<text x="243.50" y="724.30" font-size="12" fill="#333" stroke="#333" stroke-width="0.3" textLength="95.00" lengthAdjust="spacingAndGlyphs">Average weekly influenza</text>
<text x="243.50" y="741.80" font-size="12" fill="#333" stroke="#333" stroke-width="0.3" textLength="63.50" lengthAdjust="spacingAndGlyphs">positivity rate: 13</text>
<g transform="translate(21.90,813.40) rotate(-90) scale(1,0.74)"><text x="-51.70" y="0" font-size="12.8" font-weight="bold" fill="#000" textLength="103.40" lengthAdjust="spacingAndGlyphs">Number of cases</text></g>
<g transform="translate(371.10,814.00) rotate(-90) scale(1,0.74)"><text x="-72.25" y="0" font-size="12.8" font-weight="bold" fill="#000" textLength="144.50" lengthAdjust="spacingAndGlyphs">Influenza positivity rate</text></g>
<text x="163.70" y="954.60" font-size="12.2" font-weight="bold" fill="#111" stroke="#111" stroke-width="0.3" textLength="60.40" lengthAdjust="spacingAndGlyphs">Morbidity week</text>
<rect x="393.9" y="660.0" width="382.0" height="317.29999999999995" fill="#fff" stroke="#d6d6d6" stroke-width="1.2"/>
<rect x="434.85" y="907.28" width="4.66" height="3.92" fill="#FF6A0E"/>
<rect x="434.85" y="899.44" width="4.66" height="7.84" fill="#F80E0E"/>
<rect x="434.85" y="895.52" width="4.66" height="3.92" fill="#3F6CCB"/>
<rect x="440.60" y="907.28" width="4.66" height="3.92" fill="#FF6A0E"/>
<rect x="440.60" y="903.36" width="4.66" height="3.92" fill="#F80E0E"/>
<rect x="440.60" y="887.68" width="4.66" height="15.68" fill="#3F6CCB"/>
<rect x="440.60" y="875.92" width="4.66" height="11.76" fill="#62C6F6"/>
<rect x="446.36" y="903.36" width="4.66" height="7.84" fill="#F80E0E"/>
<rect x="446.36" y="895.52" width="4.66" height="7.84" fill="#3F6CCB"/>
<rect x="452.11" y="903.36" width="4.66" height="7.84" fill="#F80E0E"/>
<rect x="452.11" y="895.52" width="4.66" height="7.84" fill="#3F6CCB"/>
<rect x="452.11" y="891.60" width="4.66" height="3.92" fill="#62C6F6"/>
<rect x="457.87" y="887.68" width="4.66" height="23.52" fill="#F80E0E"/>
<rect x="457.87" y="879.84" width="4.66" height="7.84" fill="#62C6F6"/>
<rect x="463.63" y="907.28" width="4.66" height="3.92" fill="#FF6A0E"/>
<rect x="463.63" y="848.48" width="4.66" height="58.80" fill="#F80E0E"/>
<rect x="463.63" y="844.56" width="4.66" height="3.92" fill="#FF9A62"/>
<rect x="463.63" y="836.72" width="4.66" height="7.84" fill="#3F6CCB"/>
<rect x="469.38" y="828.88" width="4.66" height="82.32" fill="#F80E0E"/>
<rect x="469.38" y="824.96" width="4.66" height="3.92" fill="#62C6F6"/>
<rect x="475.14" y="907.28" width="4.66" height="3.92" fill="#FF6A0E"/>
<rect x="475.14" y="844.56" width="4.66" height="62.72" fill="#F80E0E"/>
<rect x="475.14" y="840.64" width="4.66" height="3.92" fill="#3F6CCB"/>
<rect x="475.14" y="832.80" width="4.66" height="7.84" fill="#62C6F6"/>
<rect x="480.89" y="903.36" width="4.66" height="7.84" fill="#C8380C"/>
<rect x="480.89" y="899.44" width="4.66" height="3.92" fill="#FF6A0E"/>
<rect x="480.89" y="844.56" width="4.66" height="54.88" fill="#F80E0E"/>
<rect x="480.89" y="840.64" width="4.66" height="3.92" fill="#3F6CCB"/>
<rect x="486.65" y="844.56" width="4.66" height="66.64" fill="#F80E0E"/>
<rect x="486.65" y="840.64" width="4.66" height="3.92" fill="#3F6CCB"/>
<rect x="492.40" y="852.40" width="4.66" height="58.80" fill="#F80E0E"/>
<rect x="492.40" y="848.48" width="4.66" height="3.92" fill="#3F6CCB"/>
<rect x="498.16" y="903.36" width="4.66" height="7.84" fill="#FF6A0E"/>
<rect x="498.16" y="860.24" width="4.66" height="43.12" fill="#F80E0E"/>
<rect x="498.16" y="856.32" width="4.66" height="3.92" fill="#FF9A62"/>
<rect x="498.16" y="852.40" width="4.66" height="3.92" fill="#3F6CCB"/>
<rect x="503.92" y="868.08" width="4.66" height="43.12" fill="#F80E0E"/>
<rect x="503.92" y="860.24" width="4.66" height="7.84" fill="#3F6CCB"/>
<rect x="509.67" y="883.76" width="4.66" height="27.44" fill="#F80E0E"/>
<rect x="515.43" y="879.84" width="4.66" height="31.36" fill="#F80E0E"/>
<rect x="521.18" y="903.36" width="4.66" height="7.84" fill="#F80E0E"/>
<rect x="521.18" y="899.44" width="4.66" height="3.92" fill="#3F6CCB"/>
<rect x="526.94" y="883.76" width="4.66" height="27.44" fill="#F80E0E"/>
<rect x="532.69" y="899.44" width="4.66" height="11.76" fill="#F80E0E"/>
<rect x="538.45" y="887.68" width="4.66" height="23.52" fill="#F80E0E"/>
<rect x="544.21" y="907.28" width="4.66" height="3.92" fill="#F80E0E"/>
<rect x="549.96" y="899.44" width="4.66" height="11.76" fill="#F80E0E"/>
<rect x="549.96" y="895.52" width="4.66" height="3.92" fill="#62C6F6"/>
<rect x="555.72" y="907.28" width="4.66" height="3.92" fill="#FF6A0E"/>
<rect x="555.72" y="872.00" width="4.66" height="35.28" fill="#F80E0E"/>
<rect x="555.72" y="856.32" width="4.66" height="15.68" fill="#62C6F6"/>
<rect x="561.47" y="883.76" width="4.66" height="27.44" fill="#F80E0E"/>
<rect x="561.47" y="879.84" width="4.66" height="3.92" fill="#3F6CCB"/>
<rect x="567.23" y="887.68" width="4.66" height="23.52" fill="#F80E0E"/>
<rect x="567.23" y="883.76" width="4.66" height="3.92" fill="#62C6F6"/>
<rect x="572.99" y="879.84" width="4.66" height="31.36" fill="#F80E0E"/>
<rect x="578.74" y="848.48" width="4.66" height="62.72" fill="#F80E0E"/>
<rect x="578.74" y="840.64" width="4.66" height="7.84" fill="#62C6F6"/>
<rect x="584.50" y="844.56" width="4.66" height="66.64" fill="#F80E0E"/>
<rect x="584.50" y="840.64" width="4.66" height="3.92" fill="#62C6F6"/>
<rect x="590.25" y="821.04" width="4.66" height="90.16" fill="#F80E0E"/>
<rect x="596.01" y="907.28" width="4.66" height="3.92" fill="#FF6A0E"/>
<rect x="596.01" y="805.36" width="4.66" height="101.92" fill="#F80E0E"/>
<rect x="596.01" y="793.60" width="4.66" height="11.76" fill="#3F6CCB"/>
<rect x="596.01" y="789.68" width="4.66" height="3.92" fill="#62C6F6"/>
<rect x="601.76" y="872.00" width="4.66" height="39.20" fill="#F80E0E"/>
<rect x="601.76" y="860.24" width="4.66" height="11.76" fill="#3F6CCB"/>
<rect x="607.52" y="817.12" width="4.66" height="94.08" fill="#F80E0E"/>
<rect x="607.52" y="813.20" width="4.66" height="3.92" fill="#62C6F6"/>
<rect x="613.28" y="801.44" width="4.66" height="109.76" fill="#F80E0E"/>
<rect x="613.28" y="797.52" width="4.66" height="3.92" fill="#3F6CCB"/>
<rect x="619.03" y="746.56" width="4.66" height="164.64" fill="#F80E0E"/>
<rect x="619.03" y="734.80" width="4.66" height="11.76" fill="#3F6CCB"/>
<rect x="619.03" y="730.88" width="4.66" height="3.92" fill="#62C6F6"/>
<rect x="624.79" y="899.44" width="4.66" height="11.76" fill="#FF6A0E"/>
<rect x="624.79" y="766.16" width="4.66" height="133.28" fill="#F80E0E"/>
<rect x="624.79" y="762.24" width="4.66" height="3.92" fill="#FF9A62"/>
<rect x="624.79" y="750.48" width="4.66" height="11.76" fill="#3F6CCB"/>
<rect x="624.79" y="746.56" width="4.66" height="3.92" fill="#22F2C6"/>
<rect x="630.54" y="903.36" width="4.66" height="7.84" fill="#F80E0E"/>
<rect x="636.30" y="883.76" width="4.66" height="27.44" fill="#FF6A0E"/>
<rect x="636.30" y="832.80" width="4.66" height="50.96" fill="#F80E0E"/>
<rect x="636.30" y="821.04" width="4.66" height="11.76" fill="#22F2C6"/>
<rect x="642.05" y="887.68" width="4.66" height="23.52" fill="#FF6A0E"/>
<rect x="642.05" y="868.08" width="4.66" height="19.60" fill="#F80E0E"/>
<rect x="642.05" y="852.40" width="4.66" height="15.68" fill="#3F6CCB"/>
<rect x="642.05" y="840.64" width="4.66" height="11.76" fill="#22F2C6"/>
<rect x="647.81" y="887.68" width="4.66" height="23.52" fill="#FF6A0E"/>
<rect x="647.81" y="860.24" width="4.66" height="27.44" fill="#F80E0E"/>
<rect x="647.81" y="852.40" width="4.66" height="7.84" fill="#22F2C6"/>
<rect x="653.57" y="895.52" width="4.66" height="15.68" fill="#FF6A0E"/>
<rect x="653.57" y="868.08" width="4.66" height="27.44" fill="#F80E0E"/>
<rect x="653.57" y="856.32" width="4.66" height="11.76" fill="#3F6CCB"/>
<rect x="653.57" y="842.60" width="4.66" height="13.72" fill="#22F2C6"/>
<rect x="653.57" y="836.72" width="4.66" height="5.88" fill="#62C6F6"/>
<rect x="659.32" y="872.00" width="4.66" height="39.20" fill="#FF6A0E"/>
<rect x="659.32" y="848.48" width="4.66" height="23.52" fill="#F80E0E"/>
<rect x="659.32" y="840.64" width="4.66" height="7.84" fill="#3F6CCB"/>
<rect x="659.32" y="813.20" width="4.66" height="27.44" fill="#22F2C6"/>
<rect x="659.32" y="805.36" width="4.66" height="7.84" fill="#62C6F6"/>
<rect x="665.08" y="887.68" width="4.66" height="23.52" fill="#FF6A0E"/>
<rect x="665.08" y="879.84" width="4.66" height="7.84" fill="#F80E0E"/>
<rect x="665.08" y="872.00" width="4.66" height="7.84" fill="#3F6CCB"/>
<rect x="665.08" y="836.72" width="4.66" height="35.28" fill="#22F2C6"/>
<rect x="665.08" y="832.80" width="4.66" height="3.92" fill="#62C6F6"/>
<rect x="670.83" y="852.40" width="4.66" height="58.80" fill="#FF6A0E"/>
<rect x="670.83" y="824.96" width="4.66" height="27.44" fill="#F80E0E"/>
<rect x="670.83" y="821.04" width="4.66" height="3.92" fill="#FF9A62"/>
<rect x="670.83" y="809.28" width="4.66" height="11.76" fill="#3F6CCB"/>
<rect x="670.83" y="750.48" width="4.66" height="58.80" fill="#22F2C6"/>
<rect x="670.83" y="730.88" width="4.66" height="19.60" fill="#62C6F6"/>
<rect x="676.59" y="879.84" width="4.66" height="31.36" fill="#FF6A0E"/>
<rect x="676.59" y="875.92" width="4.66" height="3.92" fill="#FF9A62"/>
<rect x="676.59" y="864.16" width="4.66" height="11.76" fill="#3F6CCB"/>
<rect x="676.59" y="777.92" width="4.66" height="86.24" fill="#22F2C6"/>
<rect x="676.59" y="758.32" width="4.66" height="19.60" fill="#62C6F6"/>
<rect x="682.34" y="895.52" width="4.66" height="15.68" fill="#FF6A0E"/>
<rect x="682.34" y="887.68" width="4.66" height="7.84" fill="#3F6CCB"/>
<rect x="682.34" y="879.84" width="4.66" height="7.84" fill="#22F2C6"/>
<rect x="682.34" y="868.08" width="4.66" height="11.76" fill="#62C6F6"/>
<rect x="688.10" y="891.60" width="4.66" height="19.60" fill="#FF6A0E"/>
<rect x="688.10" y="883.76" width="4.66" height="7.84" fill="#F80E0E"/>
<rect x="688.10" y="875.92" width="4.66" height="7.84" fill="#3F6CCB"/>
<rect x="688.10" y="828.88" width="4.66" height="47.04" fill="#22F2C6"/>
<rect x="688.10" y="821.04" width="4.66" height="7.84" fill="#62C6F6"/>
<rect x="693.86" y="840.64" width="4.66" height="70.56" fill="#FF6A0E"/>
<rect x="693.86" y="836.72" width="4.66" height="3.92" fill="#3F6CCB"/>
<rect x="693.86" y="801.44" width="4.66" height="35.28" fill="#22F2C6"/>
<rect x="693.86" y="785.76" width="4.66" height="15.68" fill="#62C6F6"/>
<rect x="699.61" y="852.40" width="4.66" height="58.80" fill="#FF6A0E"/>
<rect x="699.61" y="840.64" width="4.66" height="11.76" fill="#F80E0E"/>
<rect x="699.61" y="805.36" width="4.66" height="35.28" fill="#22F2C6"/>
<rect x="699.61" y="758.32" width="4.66" height="47.04" fill="#62C6F6"/>
<rect x="705.37" y="868.08" width="4.66" height="43.12" fill="#FF6A0E"/>
<rect x="705.37" y="836.72" width="4.66" height="31.36" fill="#22F2C6"/>
<rect x="705.37" y="832.80" width="4.66" height="3.92" fill="#62C6F6"/>
<rect x="711.12" y="872.00" width="4.66" height="39.20" fill="#FF6A0E"/>
<rect x="711.12" y="828.88" width="4.66" height="43.12" fill="#22F2C6"/>
<rect x="711.12" y="805.36" width="4.66" height="23.52" fill="#62C6F6"/>
<rect x="716.88" y="891.60" width="4.66" height="19.60" fill="#FF6A0E"/>
<rect x="716.88" y="887.68" width="4.66" height="3.92" fill="#FF9A62"/>
<rect x="716.88" y="879.84" width="4.66" height="7.84" fill="#3F6CCB"/>
<rect x="716.88" y="844.56" width="4.66" height="35.28" fill="#22F2C6"/>
<rect x="716.88" y="797.52" width="4.66" height="47.04" fill="#62C6F6"/>
<rect x="722.64" y="903.36" width="4.66" height="7.84" fill="#FF6A0E"/>
<rect x="722.64" y="899.44" width="4.66" height="3.92" fill="#F80E0E"/>
<rect x="722.64" y="887.68" width="4.66" height="11.76" fill="#22F2C6"/>
<rect x="722.64" y="852.40" width="4.66" height="35.28" fill="#62C6F6"/>
<path d="M434.30,715.20V911.20M733.60,715.20V911.20M434.30,911.20H733.60" stroke="#8a8a8a" stroke-width="1.1" fill="none"/>
<path d="M431.30,911.20H434.30M431.30,872.00H434.30M431.30,832.80H434.30M431.30,793.60H434.30M431.30,754.40H434.30M431.30,715.20H434.30M733.60,911.20H736.60M733.60,878.53H736.60M733.60,845.87H736.60M733.60,813.20H736.60M733.60,780.53H736.60M733.60,747.87H736.60M733.60,715.20H736.60M434.30,911.20V915.20M440.06,911.20V915.20M445.81,911.20V915.20M451.57,911.20V915.20M457.32,911.20V915.20M463.08,911.20V915.20M468.83,911.20V915.20M474.59,911.20V915.20M480.35,911.20V915.20M486.10,911.20V915.20M491.86,911.20V915.20M497.61,911.20V915.20M503.37,911.20V915.20M509.12,911.20V915.20M514.88,911.20V915.20M520.64,911.20V915.20M526.39,911.20V915.20M532.15,911.20V915.20M537.90,911.20V915.20M543.66,911.20V915.20M549.42,911.20V915.20M555.17,911.20V915.20M560.93,911.20V915.20M566.68,911.20V915.20M572.44,911.20V915.20M578.19,911.20V915.20M583.95,911.20V915.20M589.71,911.20V915.20M595.46,911.20V915.20M601.22,911.20V915.20M606.97,911.20V915.20M612.73,911.20V915.20M618.48,911.20V915.20M624.24,911.20V915.20M630.00,911.20V915.20M635.75,911.20V915.20M641.51,911.20V915.20M647.26,911.20V915.20M653.02,911.20V915.20M658.78,911.20V915.20M664.53,911.20V915.20M670.29,911.20V915.20M676.04,911.20V915.20M681.80,911.20V915.20M687.55,911.20V915.20M693.31,911.20V915.20M699.07,911.20V915.20M704.82,911.20V915.20M710.58,911.20V915.20M716.33,911.20V915.20M722.09,911.20V915.20M727.84,911.20V915.20M733.60,911.20V915.20" stroke="#8a8a8a" stroke-width="0.9" fill="none"/>
<text x="422.70" y="915.82" font-size="13.2" fill="#333" stroke="#333" stroke-width="0.3" textLength="4.40" lengthAdjust="spacingAndGlyphs">0</text>
<text x="418.29" y="876.62" font-size="13.2" fill="#333" stroke="#333" stroke-width="0.3" textLength="8.81" lengthAdjust="spacingAndGlyphs">10</text>
<text x="418.29" y="837.42" font-size="13.2" fill="#333" stroke="#333" stroke-width="0.3" textLength="8.81" lengthAdjust="spacingAndGlyphs">20</text>
<text x="418.29" y="798.22" font-size="13.2" fill="#333" stroke="#333" stroke-width="0.3" textLength="8.81" lengthAdjust="spacingAndGlyphs">30</text>
<text x="418.29" y="759.02" font-size="13.2" fill="#333" stroke="#333" stroke-width="0.3" textLength="8.81" lengthAdjust="spacingAndGlyphs">40</text>
<text x="418.29" y="719.82" font-size="13.2" fill="#333" stroke="#333" stroke-width="0.3" textLength="8.81" lengthAdjust="spacingAndGlyphs">50</text>
<text x="741.40" y="915.82" font-size="13.2" fill="#333" stroke="#333" stroke-width="0.3" textLength="4.40" lengthAdjust="spacingAndGlyphs">0</text>
<text x="741.40" y="883.15" font-size="13.2" fill="#333" stroke="#333" stroke-width="0.3" textLength="4.40" lengthAdjust="spacingAndGlyphs">5</text>
<text x="741.40" y="850.49" font-size="13.2" fill="#333" stroke="#333" stroke-width="0.3" textLength="8.81" lengthAdjust="spacingAndGlyphs">10</text>
<text x="741.40" y="817.82" font-size="13.2" fill="#333" stroke="#333" stroke-width="0.3" textLength="8.81" lengthAdjust="spacingAndGlyphs">15</text>
<text x="741.40" y="785.15" font-size="13.2" fill="#333" stroke="#333" stroke-width="0.3" textLength="8.81" lengthAdjust="spacingAndGlyphs">20</text>
<text x="741.40" y="752.49" font-size="13.2" fill="#333" stroke="#333" stroke-width="0.3" textLength="8.81" lengthAdjust="spacingAndGlyphs">25</text>
<text x="741.40" y="719.82" font-size="13.2" fill="#333" stroke="#333" stroke-width="0.3" textLength="8.81" lengthAdjust="spacingAndGlyphs">30</text>
<text x="434.97" y="932.30" font-size="12.6" fill="#333" stroke="#333" stroke-width="0.3" textLength="4.41" lengthAdjust="spacingAndGlyphs">1</text>
<text x="446.48" y="932.30" font-size="12.6" fill="#333" stroke="#333" stroke-width="0.3" textLength="4.41" lengthAdjust="spacingAndGlyphs">3</text>
<text x="457.99" y="932.30" font-size="12.6" fill="#333" stroke="#333" stroke-width="0.3" textLength="4.41" lengthAdjust="spacingAndGlyphs">5</text>
<text x="469.51" y="932.30" font-size="12.6" fill="#333" stroke="#333" stroke-width="0.3" textLength="4.41" lengthAdjust="spacingAndGlyphs">7</text>
<text x="481.02" y="932.30" font-size="12.6" fill="#333" stroke="#333" stroke-width="0.3" textLength="4.41" lengthAdjust="spacingAndGlyphs">9</text>
<text x="490.62" y="932.30" font-size="12.6" fill="#333" stroke="#333" stroke-width="0.3" textLength="8.24" lengthAdjust="spacingAndGlyphs">11</text>
<text x="501.83" y="932.30" font-size="12.6" fill="#333" stroke="#333" stroke-width="0.3" textLength="8.83" lengthAdjust="spacingAndGlyphs">13</text>
<text x="513.34" y="932.30" font-size="12.6" fill="#333" stroke="#333" stroke-width="0.3" textLength="8.83" lengthAdjust="spacingAndGlyphs">15</text>
<text x="524.86" y="932.30" font-size="12.6" fill="#333" stroke="#333" stroke-width="0.3" textLength="8.83" lengthAdjust="spacingAndGlyphs">17</text>
<text x="536.37" y="932.30" font-size="12.6" fill="#333" stroke="#333" stroke-width="0.3" textLength="8.83" lengthAdjust="spacingAndGlyphs">19</text>
<text x="547.88" y="932.30" font-size="12.6" fill="#333" stroke="#333" stroke-width="0.3" textLength="8.83" lengthAdjust="spacingAndGlyphs">21</text>
<text x="559.39" y="932.30" font-size="12.6" fill="#333" stroke="#333" stroke-width="0.3" textLength="8.83" lengthAdjust="spacingAndGlyphs">23</text>
<text x="570.90" y="932.30" font-size="12.6" fill="#333" stroke="#333" stroke-width="0.3" textLength="8.83" lengthAdjust="spacingAndGlyphs">25</text>
<text x="582.41" y="932.30" font-size="12.6" fill="#333" stroke="#333" stroke-width="0.3" textLength="8.83" lengthAdjust="spacingAndGlyphs">27</text>
<text x="593.93" y="932.30" font-size="12.6" fill="#333" stroke="#333" stroke-width="0.3" textLength="8.83" lengthAdjust="spacingAndGlyphs">29</text>
<text x="605.44" y="932.30" font-size="12.6" fill="#333" stroke="#333" stroke-width="0.3" textLength="8.83" lengthAdjust="spacingAndGlyphs">31</text>
<text x="616.95" y="932.30" font-size="12.6" fill="#333" stroke="#333" stroke-width="0.3" textLength="8.83" lengthAdjust="spacingAndGlyphs">33</text>
<text x="628.46" y="932.30" font-size="12.6" fill="#333" stroke="#333" stroke-width="0.3" textLength="8.83" lengthAdjust="spacingAndGlyphs">35</text>
<text x="639.97" y="932.30" font-size="12.6" fill="#333" stroke="#333" stroke-width="0.3" textLength="8.83" lengthAdjust="spacingAndGlyphs">37</text>
<text x="651.48" y="932.30" font-size="12.6" fill="#333" stroke="#333" stroke-width="0.3" textLength="8.83" lengthAdjust="spacingAndGlyphs">39</text>
<text x="662.99" y="932.30" font-size="12.6" fill="#333" stroke="#333" stroke-width="0.3" textLength="8.83" lengthAdjust="spacingAndGlyphs">41</text>
<text x="674.51" y="932.30" font-size="12.6" fill="#333" stroke="#333" stroke-width="0.3" textLength="8.83" lengthAdjust="spacingAndGlyphs">43</text>
<text x="686.02" y="932.30" font-size="12.6" fill="#333" stroke="#333" stroke-width="0.3" textLength="8.83" lengthAdjust="spacingAndGlyphs">45</text>
<text x="697.53" y="932.30" font-size="12.6" fill="#333" stroke="#333" stroke-width="0.3" textLength="8.83" lengthAdjust="spacingAndGlyphs">47</text>
<text x="709.04" y="932.30" font-size="12.6" fill="#333" stroke="#333" stroke-width="0.3" textLength="8.83" lengthAdjust="spacingAndGlyphs">49</text>
<text x="720.55" y="932.30" font-size="12.6" fill="#333" stroke="#333" stroke-width="0.3" textLength="8.83" lengthAdjust="spacingAndGlyphs">51</text>
<polyline points="437.18,897.48 442.93,882.45 448.69,897.48 454.45,896.83 460.20,886.37 465.96,856.32 471.71,834.11 477.47,851.09 483.22,852.40 488.98,843.91 494.74,855.67 500.49,856.97 506.25,856.32 512.00,871.35 517.76,859.59 523.51,872.00 529.27,855.01 535.03,882.45 540.78,868.08 546.54,905.32 552.29,890.29 558.05,829.53 563.80,866.77 569.56,869.39 575.32,855.01 581.07,837.37 586.83,853.05 592.58,827.57 598.34,811.24 604.10,858.93 609.85,831.49 615.61,813.20 621.36,796.21 627.12,821.69 632.87,887.03 638.63,849.79 644.39,860.24 650.14,862.20 655.90,838.03 661.65,826.27 667.41,845.21 673.16,798.17 678.92,802.75 684.68,793.60 690.43,827.57 696.19,771.39 701.94,768.77 707.70,826.92 713.45,789.68 719.21,758.32 724.97,787.72 730.72,911.20" fill="none" stroke="#111" stroke-width="1.15" stroke-linejoin="miter"/>
<polyline points="454.45,893.56 460.20,890.78 465.96,884.25 471.71,868.41 477.47,856.97 483.22,848.48 488.98,845.38 494.74,850.77 500.49,852.24 506.25,853.22 512.00,860.08 517.76,861.06 523.51,864.81 529.27,864.49 535.03,867.26 540.78,869.39 546.54,877.72 552.29,886.54 558.05,873.31 563.80,872.98 569.56,864.00 575.32,855.18 581.07,857.14 586.83,853.71 592.58,843.25 598.34,832.31 604.10,837.70 609.85,832.31 615.61,828.72 621.36,824.96 627.12,815.65 632.87,829.53 638.63,838.68 644.39,854.69 650.14,864.81 655.90,852.56 661.65,846.68 667.41,842.93 673.16,826.92 678.92,818.10 684.68,809.93 690.43,805.52 696.19,798.83 701.94,790.33 707.70,798.66 713.45,789.19 719.21,785.92 724.97,790.66 730.72,811.73" fill="none" stroke="#111" stroke-width="2" stroke-dasharray="4.2,2.6"/>
<rect x="440.20" y="684.90" width="22.70" height="5.60" fill="#C8380C"/>
<text x="464.70" y="690.50" font-size="8.6" fill="#3a3a3a" stroke="#3a3a3a" stroke-width="0.12" textLength="15.72" lengthAdjust="spacingAndGlyphs">A(H1)</text>
<rect x="440.20" y="700.90" width="22.70" height="5.60" fill="#FF6A0E"/>
<text x="464.70" y="706.50" font-size="8.6" fill="#3a3a3a" stroke="#3a3a3a" stroke-width="0.12" textLength="15.72" lengthAdjust="spacingAndGlyphs">A(H3)</text>
<rect x="440.20" y="716.90" width="22.70" height="5.60" fill="#F80E0E"/>
<text x="464.70" y="722.50" font-size="8.6" fill="#3a3a3a" stroke="#3a3a3a" stroke-width="0.12" textLength="59.22" lengthAdjust="spacingAndGlyphs">A(H1) Pandemic 2009</text>
<rect x="440.20" y="732.90" width="22.70" height="5.60" fill="#FF9A62"/>
<text x="464.70" y="738.50" font-size="8.6" fill="#3a3a3a" stroke="#3a3a3a" stroke-width="0.12" textLength="79.31" lengthAdjust="spacingAndGlyphs">A Unsubtypable/Not subtyped</text>
<rect x="440.20" y="748.90" width="22.70" height="5.60" fill="#3F6CCB"/>
<text x="464.70" y="754.50" font-size="8.6" fill="#3a3a3a" stroke="#3a3a3a" stroke-width="0.12" textLength="25.65" lengthAdjust="spacingAndGlyphs">B Victoria</text>
<rect x="440.20" y="764.90" width="22.70" height="5.60" fill="#22F2C6"/>
<text x="464.70" y="770.50" font-size="8.6" fill="#3a3a3a" stroke="#3a3a3a" stroke-width="0.12" textLength="32.57" lengthAdjust="spacingAndGlyphs">B Yamagata</text>
<rect x="440.20" y="780.90" width="22.70" height="5.60" fill="#62C6F6"/>
<text x="464.70" y="786.50" font-size="8.6" fill="#3a3a3a" stroke="#3a3a3a" stroke-width="0.12" textLength="79.64" lengthAdjust="spacingAndGlyphs">B Unsubtypable/Not subtyped</text>
<path d="M440.20,799.70H462.90" stroke="#111" stroke-width="1.3"/>
<text x="464.70" y="802.50" font-size="8.6" fill="#3a3a3a" stroke="#3a3a3a" stroke-width="0.12" textLength="61.23" lengthAdjust="spacingAndGlyphs">Influenza positivity rate</text>
<path d="M440.20,815.70H462.90" stroke="#111" stroke-width="2" stroke-dasharray="3.2,1.8"/>
<text x="464.70" y="818.50" font-size="8.6" fill="#3a3a3a" stroke="#3a3a3a" stroke-width="0.12" textLength="109.52" lengthAdjust="spacingAndGlyphs">4 per. Mov. Avg. (Influenza positivity rate)</text>
<text x="571.90" y="692.00" font-size="18.5" fill="#111" stroke="#111" stroke-width="0.3" textLength="25.70" lengthAdjust="spacingAndGlyphs">2011</text>
<text x="635.90" y="697.80" font-size="12" fill="#333" stroke="#333" stroke-width="0.3" textLength="93.70" lengthAdjust="spacingAndGlyphs">Average weekly influenza</text>
<text x="635.90" y="714.20" font-size="12" fill="#333" stroke="#333" stroke-width="0.3" textLength="66.60" lengthAdjust="spacingAndGlyphs">positivity rate: 10</text>
<g transform="translate(415.00,814.00) rotate(-90) scale(1,0.74)"><text x="-51.50" y="0" font-size="12.8" font-weight="bold" fill="#000" textLength="103.00" lengthAdjust="spacingAndGlyphs">Number of cases</text></g>
<g transform="translate(763.00,814.00) rotate(-90) scale(1,0.74)"><text x="-72.45" y="0" font-size="12.8" font-weight="bold" fill="#000" textLength="144.90" lengthAdjust="spacingAndGlyphs">Influenza positivity rate</text></g>
<text x="554.10" y="954.80" font-size="12.2" font-weight="bold" fill="#111" stroke="#111" stroke-width="0.3" textLength="59.80" lengthAdjust="spacingAndGlyphs">Morbidity week</text>
</svg></body></html>
